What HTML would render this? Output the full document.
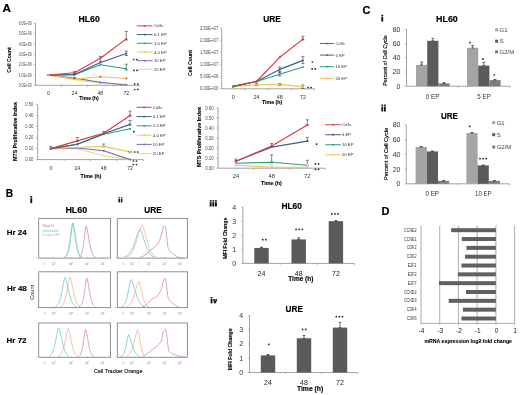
<!DOCTYPE html>
<html><head><meta charset="utf-8"><style>
html,body{margin:0;padding:0;background:#fff;width:520px;height:395px;overflow:hidden}
svg{display:block;font-family:"Liberation Sans",sans-serif;filter:blur(0.45px)}
</style></head><body>
<svg width="520" height="395" viewBox="0 0 520 395">
<rect width="520" height="395" fill="#fff"/>
<text x="2.50" y="12.00" font-size="11.7" text-anchor="start" fill="#000" font-weight="bold" stroke="#000" stroke-width="0.23" >A</text>
<text x="78.50" y="22.48" font-size="9.1" text-anchor="start" fill="#000" font-weight="bold" stroke="#000" stroke-width="0.18" textLength="21.30" lengthAdjust="spacingAndGlyphs" >HL60</text>
<line x1="35.50" y1="23.20" x2="35.50" y2="85.30" stroke="#8c8c8c" stroke-width="0.8" />
<line x1="35.50" y1="85.30" x2="139.30" y2="85.30" stroke="#8c8c8c" stroke-width="0.8" />
<line x1="33.90" y1="85.30" x2="35.50" y2="85.30" stroke="#8c8c8c" stroke-width="0.6" />
<text x="18.70" y="86.91" font-size="4.6" text-anchor="start" fill="#4a4a4a" textLength="12.90" lengthAdjust="spacingAndGlyphs" >0.0E+00</text>
<line x1="33.90" y1="74.95" x2="35.50" y2="74.95" stroke="#8c8c8c" stroke-width="0.6" />
<text x="18.70" y="76.56" font-size="4.6" text-anchor="start" fill="#4a4a4a" textLength="12.90" lengthAdjust="spacingAndGlyphs" >1.0E+06</text>
<line x1="33.90" y1="64.60" x2="35.50" y2="64.60" stroke="#8c8c8c" stroke-width="0.6" />
<text x="18.70" y="66.21" font-size="4.6" text-anchor="start" fill="#4a4a4a" textLength="12.90" lengthAdjust="spacingAndGlyphs" >2.0E+06</text>
<line x1="33.90" y1="54.25" x2="35.50" y2="54.25" stroke="#8c8c8c" stroke-width="0.6" />
<text x="18.70" y="55.86" font-size="4.6" text-anchor="start" fill="#4a4a4a" textLength="12.90" lengthAdjust="spacingAndGlyphs" >3.0E+06</text>
<line x1="33.90" y1="43.90" x2="35.50" y2="43.90" stroke="#8c8c8c" stroke-width="0.6" />
<text x="18.70" y="45.51" font-size="4.6" text-anchor="start" fill="#4a4a4a" textLength="12.90" lengthAdjust="spacingAndGlyphs" >4.0E+06</text>
<line x1="33.90" y1="33.55" x2="35.50" y2="33.55" stroke="#8c8c8c" stroke-width="0.6" />
<text x="18.70" y="35.16" font-size="4.6" text-anchor="start" fill="#4a4a4a" textLength="12.90" lengthAdjust="spacingAndGlyphs" >5.0E+06</text>
<line x1="33.90" y1="23.20" x2="35.50" y2="23.20" stroke="#8c8c8c" stroke-width="0.6" />
<text x="18.70" y="24.81" font-size="4.6" text-anchor="start" fill="#4a4a4a" textLength="12.90" lengthAdjust="spacingAndGlyphs" >6.0E+06</text>
<line x1="61.45" y1="85.30" x2="61.45" y2="86.90" stroke="#8c8c8c" stroke-width="0.6" />
<line x1="87.40" y1="85.30" x2="87.40" y2="86.90" stroke="#8c8c8c" stroke-width="0.6" />
<line x1="113.35" y1="85.30" x2="113.35" y2="86.90" stroke="#8c8c8c" stroke-width="0.6" />
<line x1="139.30" y1="85.30" x2="139.30" y2="86.90" stroke="#8c8c8c" stroke-width="0.6" />
<polyline points="48.5,75.0 74.4,79.6 100.4,83.2 126.3,84.4" fill="none" stroke="#dfe67a" stroke-width="1.15" stroke-linejoin="round" />
<polyline points="48.5,75.0 74.4,78.1 100.4,82.3 126.3,85.0" fill="none" stroke="#8064c4" stroke-width="1.15" stroke-linejoin="round" />
<polyline points="48.5,75.0 74.4,79.1 100.4,76.8 126.3,78.5" fill="none" stroke="#eec455" stroke-width="1.15" stroke-linejoin="round" />
<polyline points="48.5,75.0 74.4,74.6 100.4,64.8 126.3,68.7" fill="none" stroke="#26a27a" stroke-width="1.15" stroke-linejoin="round" />
<polyline points="48.5,75.0 74.4,74.6 100.4,62.5 126.3,53.5" fill="none" stroke="#3f5e88" stroke-width="1.15" stroke-linejoin="round" />
<polyline points="48.5,75.0 74.4,72.7 100.4,58.3 126.3,38.9" fill="none" stroke="#e2363f" stroke-width="1.15" stroke-linejoin="round" />
<line x1="126.32" y1="31.50" x2="126.32" y2="40.00" stroke="#555" stroke-width="0.7" />
<line x1="124.72" y1="31.50" x2="127.92" y2="31.50" stroke="#555" stroke-width="0.7" />
<line x1="124.72" y1="40.00" x2="127.92" y2="40.00" stroke="#555" stroke-width="0.7" />
<line x1="126.32" y1="51.20" x2="126.32" y2="55.50" stroke="#555" stroke-width="0.7" />
<line x1="124.72" y1="51.20" x2="127.92" y2="51.20" stroke="#555" stroke-width="0.7" />
<line x1="124.72" y1="55.50" x2="127.92" y2="55.50" stroke="#555" stroke-width="0.7" />
<line x1="126.32" y1="64.20" x2="126.32" y2="70.00" stroke="#555" stroke-width="0.7" />
<line x1="124.72" y1="64.20" x2="127.92" y2="64.20" stroke="#555" stroke-width="0.7" />
<line x1="124.72" y1="70.00" x2="127.92" y2="70.00" stroke="#555" stroke-width="0.7" />
<line x1="100.38" y1="56.40" x2="100.38" y2="61.80" stroke="#555" stroke-width="0.7" />
<line x1="98.78" y1="56.40" x2="101.97" y2="56.40" stroke="#555" stroke-width="0.7" />
<line x1="98.78" y1="61.80" x2="101.97" y2="61.80" stroke="#555" stroke-width="0.7" />
<line x1="74.42" y1="71.60" x2="74.42" y2="73.50" stroke="#555" stroke-width="0.7" />
<line x1="72.83" y1="71.60" x2="76.02" y2="71.60" stroke="#555" stroke-width="0.7" />
<line x1="72.83" y1="73.50" x2="76.02" y2="73.50" stroke="#555" stroke-width="0.7" />
<circle cx="48.48" cy="74.95" r="1.0" fill="#dfe67a"/>
<circle cx="74.42" cy="79.61" r="1.0" fill="#dfe67a"/>
<circle cx="100.38" cy="83.23" r="1.0" fill="#dfe67a"/>
<circle cx="126.32" cy="84.37" r="1.0" fill="#dfe67a"/>
<circle cx="48.48" cy="74.95" r="1.0" fill="#8064c4"/>
<circle cx="74.42" cy="78.05" r="1.0" fill="#8064c4"/>
<circle cx="100.38" cy="82.30" r="1.0" fill="#8064c4"/>
<circle cx="126.32" cy="84.99" r="1.0" fill="#8064c4"/>
<circle cx="48.48" cy="74.95" r="1.0" fill="#eec455"/>
<circle cx="74.42" cy="79.09" r="1.0" fill="#eec455"/>
<circle cx="100.38" cy="76.81" r="1.0" fill="#eec455"/>
<circle cx="126.32" cy="78.47" r="1.0" fill="#eec455"/>
<circle cx="48.48" cy="74.95" r="1.0" fill="#26a27a"/>
<circle cx="74.42" cy="74.64" r="1.0" fill="#26a27a"/>
<circle cx="100.38" cy="64.81" r="1.0" fill="#26a27a"/>
<circle cx="126.32" cy="68.74" r="1.0" fill="#26a27a"/>
<circle cx="48.48" cy="74.95" r="1.0" fill="#3f5e88"/>
<circle cx="74.42" cy="74.64" r="1.0" fill="#3f5e88"/>
<circle cx="100.38" cy="62.53" r="1.0" fill="#3f5e88"/>
<circle cx="126.32" cy="53.53" r="1.0" fill="#3f5e88"/>
<circle cx="48.48" cy="74.95" r="1.0" fill="#e2363f"/>
<circle cx="74.42" cy="72.67" r="1.0" fill="#e2363f"/>
<circle cx="100.38" cy="58.29" r="1.0" fill="#e2363f"/>
<circle cx="126.32" cy="38.93" r="1.0" fill="#e2363f"/>
<circle cx="74.42" cy="78.05" r="0.9" fill="#444"/>
<circle cx="126.32" cy="78.47" r="1.1" fill="#b08040"/>
<circle cx="100.38" cy="76.81" r="1.1" fill="#b08040"/>
<circle cx="48.48" cy="74.95" r="1.3" fill="#a8c070"/>
<text x="48.48" y="95.12" font-size="5.2" text-anchor="middle" fill="#333" >0</text>
<text x="74.42" y="95.12" font-size="5.2" text-anchor="middle" fill="#333" >24</text>
<text x="100.38" y="95.12" font-size="5.2" text-anchor="middle" fill="#333" >48</text>
<text x="126.32" y="95.12" font-size="5.2" text-anchor="middle" fill="#333" >72</text>
<text x="79.30" y="99.62" font-size="5.2" text-anchor="start" fill="#000" font-weight="bold" stroke="#000" stroke-width="0.10" textLength="19.50" lengthAdjust="spacingAndGlyphs" >Time (h)</text>
<text transform="translate(8.90,60.00) rotate(-90)" x="0" y="1.96" font-size="5.6" text-anchor="middle" fill="#000" font-weight="bold" stroke="#000" stroke-width="0.11" textLength="25.50" lengthAdjust="spacingAndGlyphs" >Cell Count</text>
<line x1="136.80" y1="25.90" x2="152.50" y2="25.90" stroke="#e2363f" stroke-width="1.0" />
<circle cx="144.60" cy="25.90" r="0.9" fill="#e2363f"/>
<text x="153.90" y="27.40" font-size="4.3" text-anchor="start" fill="#333" >Cells</text>
<line x1="136.80" y1="34.60" x2="152.50" y2="34.60" stroke="#3f5e88" stroke-width="1.0" />
<circle cx="144.60" cy="34.60" r="0.9" fill="#3f5e88"/>
<text x="153.90" y="36.10" font-size="4.3" text-anchor="start" fill="#333" >0.1 EP</text>
<line x1="136.80" y1="43.30" x2="152.50" y2="43.30" stroke="#26a27a" stroke-width="1.0" />
<circle cx="144.60" cy="43.30" r="0.9" fill="#26a27a"/>
<text x="153.90" y="44.80" font-size="4.3" text-anchor="start" fill="#333" >1.0 EP</text>
<line x1="136.80" y1="52.00" x2="152.50" y2="52.00" stroke="#eec455" stroke-width="1.0" />
<circle cx="144.60" cy="52.00" r="0.9" fill="#eec455"/>
<text x="153.90" y="53.51" font-size="4.3" text-anchor="start" fill="#333" >4.0 EP</text>
<line x1="136.80" y1="60.70" x2="152.50" y2="60.70" stroke="#8064c4" stroke-width="1.0" />
<circle cx="144.60" cy="60.70" r="0.9" fill="#8064c4"/>
<text x="153.90" y="62.20" font-size="4.3" text-anchor="start" fill="#333" >10 EP</text>
<line x1="136.80" y1="69.40" x2="152.50" y2="69.40" stroke="#dfe67a" stroke-width="1.0" />
<circle cx="144.60" cy="69.40" r="0.9" fill="#dfe67a"/>
<text x="153.90" y="70.91" font-size="4.3" text-anchor="start" fill="#333" >20 EP</text>
<rect x="132.80" y="58.65" width="1.7" height="1.7" rx="0.5" fill="#333"/>
<rect x="135.90" y="58.65" width="1.7" height="1.7" rx="0.5" fill="#333"/>
<rect x="133.10" y="69.45" width="1.7" height="1.7" rx="0.5" fill="#333"/>
<rect x="136.20" y="69.45" width="1.7" height="1.7" rx="0.5" fill="#333"/>
<rect x="133.80" y="83.15" width="1.7" height="1.7" rx="0.5" fill="#333"/>
<rect x="136.90" y="83.15" width="1.7" height="1.7" rx="0.5" fill="#333"/>
<rect x="133.80" y="88.65" width="1.7" height="1.7" rx="0.5" fill="#333"/>
<rect x="136.90" y="88.65" width="1.7" height="1.7" rx="0.5" fill="#333"/>
<text x="263.30" y="22.29" font-size="9.1" text-anchor="start" fill="#000" font-weight="bold" stroke="#000" stroke-width="0.18" textLength="17.60" lengthAdjust="spacingAndGlyphs" >URE</text>
<line x1="221.70" y1="28.20" x2="221.70" y2="88.80" stroke="#8c8c8c" stroke-width="0.8" />
<line x1="221.70" y1="88.80" x2="314.50" y2="88.80" stroke="#8c8c8c" stroke-width="0.8" />
<line x1="220.10" y1="88.80" x2="221.70" y2="88.80" stroke="#8c8c8c" stroke-width="0.6" />
<text x="200.00" y="90.41" font-size="4.6" text-anchor="start" fill="#4a4a4a" textLength="18.30" lengthAdjust="spacingAndGlyphs" >0.00E+00</text>
<line x1="220.10" y1="76.68" x2="221.70" y2="76.68" stroke="#8c8c8c" stroke-width="0.6" />
<text x="200.00" y="78.29" font-size="4.6" text-anchor="start" fill="#4a4a4a" textLength="18.30" lengthAdjust="spacingAndGlyphs" >5.00E+06</text>
<line x1="220.10" y1="64.56" x2="221.70" y2="64.56" stroke="#8c8c8c" stroke-width="0.6" />
<text x="200.00" y="66.17" font-size="4.6" text-anchor="start" fill="#4a4a4a" textLength="18.30" lengthAdjust="spacingAndGlyphs" >1.00E+07</text>
<line x1="220.10" y1="52.44" x2="221.70" y2="52.44" stroke="#8c8c8c" stroke-width="0.6" />
<text x="200.00" y="54.05" font-size="4.6" text-anchor="start" fill="#4a4a4a" textLength="18.30" lengthAdjust="spacingAndGlyphs" >1.50E+07</text>
<line x1="220.10" y1="40.32" x2="221.70" y2="40.32" stroke="#8c8c8c" stroke-width="0.6" />
<text x="200.00" y="41.93" font-size="4.6" text-anchor="start" fill="#4a4a4a" textLength="18.30" lengthAdjust="spacingAndGlyphs" >2.00E+07</text>
<line x1="220.10" y1="28.20" x2="221.70" y2="28.20" stroke="#8c8c8c" stroke-width="0.6" />
<text x="200.00" y="29.81" font-size="4.6" text-anchor="start" fill="#4a4a4a" textLength="18.30" lengthAdjust="spacingAndGlyphs" >2.50E+07</text>
<line x1="244.90" y1="88.80" x2="244.90" y2="90.40" stroke="#8c8c8c" stroke-width="0.6" />
<line x1="268.10" y1="88.80" x2="268.10" y2="90.40" stroke="#8c8c8c" stroke-width="0.6" />
<line x1="291.30" y1="88.80" x2="291.30" y2="90.40" stroke="#8c8c8c" stroke-width="0.6" />
<line x1="314.50" y1="88.80" x2="314.50" y2="90.40" stroke="#8c8c8c" stroke-width="0.6" />
<polyline points="233.3,86.4 256.5,84.7 279.7,84.4 302.9,86.9" fill="none" stroke="#eec455" stroke-width="1.15" stroke-linejoin="round" />
<polyline points="233.3,86.4 256.5,81.5 279.7,74.3 302.9,67.0" fill="none" stroke="#26a27a" stroke-width="1.15" stroke-linejoin="round" />
<polyline points="233.3,86.4 256.5,81.5 279.7,69.4 302.9,60.4" fill="none" stroke="#3f5e88" stroke-width="1.15" stroke-linejoin="round" />
<polyline points="233.3,86.4 256.5,81.5 279.7,57.3 302.9,39.1" fill="none" stroke="#e2363f" stroke-width="1.15" stroke-linejoin="round" />
<line x1="302.90" y1="36.20" x2="302.90" y2="40.00" stroke="#555" stroke-width="0.7" />
<line x1="301.30" y1="36.20" x2="304.50" y2="36.20" stroke="#555" stroke-width="0.7" />
<line x1="301.30" y1="40.00" x2="304.50" y2="40.00" stroke="#555" stroke-width="0.7" />
<line x1="302.90" y1="56.70" x2="302.90" y2="63.60" stroke="#555" stroke-width="0.7" />
<line x1="301.30" y1="56.70" x2="304.50" y2="56.70" stroke="#555" stroke-width="0.7" />
<line x1="301.30" y1="63.60" x2="304.50" y2="63.60" stroke="#555" stroke-width="0.7" />
<line x1="279.70" y1="67.00" x2="279.70" y2="71.50" stroke="#555" stroke-width="0.7" />
<line x1="278.10" y1="67.00" x2="281.30" y2="67.00" stroke="#555" stroke-width="0.7" />
<line x1="278.10" y1="71.50" x2="281.30" y2="71.50" stroke="#555" stroke-width="0.7" />
<line x1="279.70" y1="72.50" x2="279.70" y2="76.00" stroke="#555" stroke-width="0.7" />
<line x1="278.10" y1="72.50" x2="281.30" y2="72.50" stroke="#555" stroke-width="0.7" />
<line x1="278.10" y1="76.00" x2="281.30" y2="76.00" stroke="#555" stroke-width="0.7" />
<line x1="279.70" y1="83.50" x2="279.70" y2="85.50" stroke="#555" stroke-width="0.7" />
<line x1="278.10" y1="83.50" x2="281.30" y2="83.50" stroke="#555" stroke-width="0.7" />
<line x1="278.10" y1="85.50" x2="281.30" y2="85.50" stroke="#555" stroke-width="0.7" />
<line x1="302.90" y1="85.00" x2="302.90" y2="88.50" stroke="#555" stroke-width="0.7" />
<line x1="301.30" y1="85.00" x2="304.50" y2="85.00" stroke="#555" stroke-width="0.7" />
<line x1="301.30" y1="88.50" x2="304.50" y2="88.50" stroke="#555" stroke-width="0.7" />
<line x1="256.50" y1="83.70" x2="256.50" y2="85.50" stroke="#555" stroke-width="0.7" />
<line x1="254.90" y1="83.70" x2="258.10" y2="83.70" stroke="#555" stroke-width="0.7" />
<line x1="254.90" y1="85.50" x2="258.10" y2="85.50" stroke="#555" stroke-width="0.7" />
<circle cx="233.30" cy="86.38" r="1.0" fill="#eec455"/>
<circle cx="256.50" cy="84.68" r="1.0" fill="#eec455"/>
<circle cx="279.70" cy="84.44" r="1.0" fill="#eec455"/>
<circle cx="302.90" cy="86.86" r="1.0" fill="#eec455"/>
<circle cx="233.30" cy="86.38" r="1.0" fill="#26a27a"/>
<circle cx="256.50" cy="81.53" r="1.0" fill="#26a27a"/>
<circle cx="279.70" cy="74.26" r="1.0" fill="#26a27a"/>
<circle cx="302.90" cy="66.98" r="1.0" fill="#26a27a"/>
<circle cx="233.30" cy="86.38" r="1.0" fill="#3f5e88"/>
<circle cx="256.50" cy="81.53" r="1.0" fill="#3f5e88"/>
<circle cx="279.70" cy="69.41" r="1.0" fill="#3f5e88"/>
<circle cx="302.90" cy="60.44" r="1.0" fill="#3f5e88"/>
<circle cx="233.30" cy="86.38" r="1.0" fill="#e2363f"/>
<circle cx="256.50" cy="81.53" r="1.0" fill="#e2363f"/>
<circle cx="279.70" cy="57.29" r="1.0" fill="#e2363f"/>
<circle cx="302.90" cy="39.11" r="1.0" fill="#e2363f"/>
<circle cx="233.30" cy="86.38" r="1.2" fill="#708040"/>
<text x="233.30" y="98.89" font-size="5.4" text-anchor="middle" fill="#333" >0</text>
<text x="256.50" y="98.89" font-size="5.4" text-anchor="middle" fill="#333" >24</text>
<text x="279.70" y="98.89" font-size="5.4" text-anchor="middle" fill="#333" >48</text>
<text x="302.90" y="98.89" font-size="5.4" text-anchor="middle" fill="#333" >72</text>
<text x="261.90" y="104.36" font-size="5.3" text-anchor="start" fill="#000" font-weight="bold" stroke="#000" stroke-width="0.11" textLength="20.40" lengthAdjust="spacingAndGlyphs" >Time (h)</text>
<text transform="translate(190.30,63.00) rotate(-90)" x="0" y="1.96" font-size="5.6" text-anchor="middle" fill="#000" font-weight="bold" stroke="#000" stroke-width="0.11" textLength="26.00" lengthAdjust="spacingAndGlyphs" >Cell Count</text>
<line x1="319.90" y1="43.50" x2="334.00" y2="43.50" stroke="#e2363f" stroke-width="1.0" />
<circle cx="327.00" cy="43.50" r="0.9" fill="#e2363f"/>
<text x="335.40" y="45.01" font-size="4.3" text-anchor="start" fill="#333" >Cells</text>
<line x1="319.90" y1="55.10" x2="334.00" y2="55.10" stroke="#3f5e88" stroke-width="1.0" />
<circle cx="327.00" cy="55.10" r="0.9" fill="#3f5e88"/>
<text x="335.40" y="56.61" font-size="4.3" text-anchor="start" fill="#333" >6 EP</text>
<line x1="319.90" y1="66.70" x2="334.00" y2="66.70" stroke="#26a27a" stroke-width="1.0" />
<circle cx="327.00" cy="66.70" r="0.9" fill="#26a27a"/>
<text x="335.40" y="68.20" font-size="4.3" text-anchor="start" fill="#333" >10 EP</text>
<line x1="319.90" y1="78.30" x2="334.00" y2="78.30" stroke="#eec455" stroke-width="1.0" />
<circle cx="327.00" cy="78.30" r="0.9" fill="#eec455"/>
<text x="335.40" y="79.80" font-size="4.3" text-anchor="start" fill="#333" >20 EP</text>
<rect x="311.55" y="61.15" width="1.7" height="1.7" rx="0.5" fill="#333"/>
<rect x="311.30" y="67.95" width="1.7" height="1.7" rx="0.5" fill="#333"/>
<rect x="314.40" y="67.95" width="1.7" height="1.7" rx="0.5" fill="#333"/>
<rect x="307.20" y="86.65" width="1.7" height="1.7" rx="0.5" fill="#333"/>
<rect x="310.30" y="86.65" width="1.7" height="1.7" rx="0.5" fill="#333"/>
<line x1="37.70" y1="104.70" x2="37.70" y2="159.60" stroke="#8c8c8c" stroke-width="0.8" />
<line x1="37.70" y1="159.60" x2="143.30" y2="159.60" stroke="#8c8c8c" stroke-width="0.8" />
<line x1="36.10" y1="159.60" x2="37.70" y2="159.60" stroke="#8c8c8c" stroke-width="0.6" />
<text x="25.20" y="161.21" font-size="4.6" text-anchor="start" fill="#4a4a4a" textLength="8.20" lengthAdjust="spacingAndGlyphs" >0.00</text>
<line x1="36.10" y1="148.60" x2="37.70" y2="148.60" stroke="#8c8c8c" stroke-width="0.6" />
<text x="25.20" y="150.21" font-size="4.6" text-anchor="start" fill="#4a4a4a" textLength="8.20" lengthAdjust="spacingAndGlyphs" >0.10</text>
<line x1="36.10" y1="137.60" x2="37.70" y2="137.60" stroke="#8c8c8c" stroke-width="0.6" />
<text x="25.20" y="139.21" font-size="4.6" text-anchor="start" fill="#4a4a4a" textLength="8.20" lengthAdjust="spacingAndGlyphs" >0.20</text>
<line x1="36.10" y1="126.60" x2="37.70" y2="126.60" stroke="#8c8c8c" stroke-width="0.6" />
<text x="25.20" y="128.21" font-size="4.6" text-anchor="start" fill="#4a4a4a" textLength="8.20" lengthAdjust="spacingAndGlyphs" >0.30</text>
<line x1="36.10" y1="115.60" x2="37.70" y2="115.60" stroke="#8c8c8c" stroke-width="0.6" />
<text x="25.20" y="117.21" font-size="4.6" text-anchor="start" fill="#4a4a4a" textLength="8.20" lengthAdjust="spacingAndGlyphs" >0.40</text>
<line x1="36.10" y1="104.60" x2="37.70" y2="104.60" stroke="#8c8c8c" stroke-width="0.6" />
<text x="25.20" y="106.21" font-size="4.6" text-anchor="start" fill="#4a4a4a" textLength="8.20" lengthAdjust="spacingAndGlyphs" >0.50</text>
<line x1="64.10" y1="159.60" x2="64.10" y2="161.20" stroke="#8c8c8c" stroke-width="0.6" />
<line x1="90.50" y1="159.60" x2="90.50" y2="161.20" stroke="#8c8c8c" stroke-width="0.6" />
<line x1="116.90" y1="159.60" x2="116.90" y2="161.20" stroke="#8c8c8c" stroke-width="0.6" />
<line x1="143.30" y1="159.60" x2="143.30" y2="161.20" stroke="#8c8c8c" stroke-width="0.6" />
<polyline points="50.9,148.6 77.3,148.6 103.7,155.8 130.1,159.6" fill="none" stroke="#dfe67a" stroke-width="1.15" stroke-linejoin="round" />
<polyline points="50.9,148.6 77.3,148.0 103.7,150.8 130.1,159.6" fill="none" stroke="#8064c4" stroke-width="1.15" stroke-linejoin="round" />
<polyline points="50.9,148.6 77.3,147.5 103.7,146.4 130.1,151.9" fill="none" stroke="#eec455" stroke-width="1.15" stroke-linejoin="round" />
<polyline points="50.9,148.6 77.3,144.2 103.7,134.3 130.1,128.8" fill="none" stroke="#26a27a" stroke-width="1.15" stroke-linejoin="round" />
<polyline points="50.9,148.6 77.3,144.2 103.7,133.8 130.1,124.4" fill="none" stroke="#3f5e88" stroke-width="1.15" stroke-linejoin="round" />
<polyline points="50.9,148.6 77.3,140.9 103.7,133.2 130.1,115.6" fill="none" stroke="#e2363f" stroke-width="1.15" stroke-linejoin="round" />
<line x1="130.10" y1="111.20" x2="130.10" y2="116.00" stroke="#555" stroke-width="0.7" />
<line x1="128.50" y1="111.20" x2="131.70" y2="111.20" stroke="#555" stroke-width="0.7" />
<line x1="128.50" y1="116.00" x2="131.70" y2="116.00" stroke="#555" stroke-width="0.7" />
<line x1="130.10" y1="120.40" x2="130.10" y2="125.00" stroke="#555" stroke-width="0.7" />
<line x1="128.50" y1="120.40" x2="131.70" y2="120.40" stroke="#555" stroke-width="0.7" />
<line x1="128.50" y1="125.00" x2="131.70" y2="125.00" stroke="#555" stroke-width="0.7" />
<line x1="77.30" y1="137.50" x2="77.30" y2="141.50" stroke="#555" stroke-width="0.7" />
<line x1="75.70" y1="137.50" x2="78.90" y2="137.50" stroke="#555" stroke-width="0.7" />
<line x1="75.70" y1="141.50" x2="78.90" y2="141.50" stroke="#555" stroke-width="0.7" />
<line x1="103.70" y1="131.50" x2="103.70" y2="133.50" stroke="#555" stroke-width="0.7" />
<line x1="102.10" y1="131.50" x2="105.30" y2="131.50" stroke="#555" stroke-width="0.7" />
<line x1="102.10" y1="133.50" x2="105.30" y2="133.50" stroke="#555" stroke-width="0.7" />
<line x1="103.70" y1="144.00" x2="103.70" y2="146.50" stroke="#555" stroke-width="0.7" />
<line x1="102.10" y1="144.00" x2="105.30" y2="144.00" stroke="#555" stroke-width="0.7" />
<line x1="102.10" y1="146.50" x2="105.30" y2="146.50" stroke="#555" stroke-width="0.7" />
<line x1="50.90" y1="146.30" x2="50.90" y2="148.50" stroke="#555" stroke-width="0.7" />
<line x1="49.30" y1="146.30" x2="52.50" y2="146.30" stroke="#555" stroke-width="0.7" />
<line x1="49.30" y1="148.50" x2="52.50" y2="148.50" stroke="#555" stroke-width="0.7" />
<line x1="130.10" y1="151.50" x2="130.10" y2="152.80" stroke="#555" stroke-width="0.7" />
<line x1="128.50" y1="151.50" x2="131.70" y2="151.50" stroke="#555" stroke-width="0.7" />
<line x1="128.50" y1="152.80" x2="131.70" y2="152.80" stroke="#555" stroke-width="0.7" />
<circle cx="50.90" cy="148.60" r="1.0" fill="#dfe67a"/>
<circle cx="77.30" cy="148.60" r="1.0" fill="#dfe67a"/>
<circle cx="103.70" cy="155.75" r="1.0" fill="#dfe67a"/>
<circle cx="130.10" cy="159.60" r="1.0" fill="#dfe67a"/>
<circle cx="50.90" cy="148.60" r="1.0" fill="#8064c4"/>
<circle cx="77.30" cy="148.05" r="1.0" fill="#8064c4"/>
<circle cx="103.70" cy="150.80" r="1.0" fill="#8064c4"/>
<circle cx="130.10" cy="159.60" r="1.0" fill="#8064c4"/>
<circle cx="50.90" cy="148.60" r="1.0" fill="#eec455"/>
<circle cx="77.30" cy="147.50" r="1.0" fill="#eec455"/>
<circle cx="103.70" cy="146.40" r="1.0" fill="#eec455"/>
<circle cx="130.10" cy="151.90" r="1.0" fill="#eec455"/>
<circle cx="50.90" cy="148.60" r="1.0" fill="#26a27a"/>
<circle cx="77.30" cy="144.20" r="1.0" fill="#26a27a"/>
<circle cx="103.70" cy="134.30" r="1.0" fill="#26a27a"/>
<circle cx="130.10" cy="128.80" r="1.0" fill="#26a27a"/>
<circle cx="50.90" cy="148.60" r="1.0" fill="#3f5e88"/>
<circle cx="77.30" cy="144.20" r="1.0" fill="#3f5e88"/>
<circle cx="103.70" cy="133.75" r="1.0" fill="#3f5e88"/>
<circle cx="130.10" cy="124.40" r="1.0" fill="#3f5e88"/>
<circle cx="50.90" cy="148.60" r="1.0" fill="#e2363f"/>
<circle cx="77.30" cy="140.90" r="1.0" fill="#e2363f"/>
<circle cx="103.70" cy="133.20" r="1.0" fill="#e2363f"/>
<circle cx="130.10" cy="115.60" r="1.0" fill="#e2363f"/>
<circle cx="50.90" cy="148.60" r="1.3" fill="#777"/>
<text x="50.90" y="169.82" font-size="5.2" text-anchor="middle" fill="#333" >0</text>
<text x="77.30" y="169.82" font-size="5.2" text-anchor="middle" fill="#333" >24</text>
<text x="103.70" y="169.82" font-size="5.2" text-anchor="middle" fill="#333" >48</text>
<text x="130.10" y="169.82" font-size="5.2" text-anchor="middle" fill="#333" >72</text>
<text x="80.50" y="178.29" font-size="5.4" text-anchor="start" fill="#000" font-weight="bold" stroke="#000" stroke-width="0.11" textLength="20.90" lengthAdjust="spacingAndGlyphs" >Time (h)</text>
<text transform="translate(15.10,131.50) rotate(-90)" x="0" y="1.85" font-size="5.3" text-anchor="middle" fill="#000" font-weight="bold" stroke="#000" stroke-width="0.11" textLength="59.00" lengthAdjust="spacingAndGlyphs" >MTS Proliferative Index</text>
<line x1="136.60" y1="107.30" x2="151.70" y2="107.30" stroke="#e2363f" stroke-width="1.0" />
<circle cx="144.20" cy="107.30" r="0.9" fill="#e2363f"/>
<text x="152.80" y="108.80" font-size="4.3" text-anchor="start" fill="#333" >Cells</text>
<line x1="136.60" y1="116.57" x2="151.70" y2="116.57" stroke="#3f5e88" stroke-width="1.0" />
<circle cx="144.20" cy="116.57" r="0.9" fill="#3f5e88"/>
<text x="152.80" y="118.07" font-size="4.3" text-anchor="start" fill="#333" >0.1 EP</text>
<line x1="136.60" y1="125.84" x2="151.70" y2="125.84" stroke="#26a27a" stroke-width="1.0" />
<circle cx="144.20" cy="125.84" r="0.9" fill="#26a27a"/>
<text x="152.80" y="127.34" font-size="4.3" text-anchor="start" fill="#333" >1.0 EP</text>
<line x1="136.60" y1="135.11" x2="151.70" y2="135.11" stroke="#eec455" stroke-width="1.0" />
<circle cx="144.20" cy="135.11" r="0.9" fill="#eec455"/>
<text x="152.80" y="136.61" font-size="4.3" text-anchor="start" fill="#333" >4.0 EP</text>
<line x1="136.60" y1="144.38" x2="151.70" y2="144.38" stroke="#8064c4" stroke-width="1.0" />
<circle cx="144.20" cy="144.38" r="0.9" fill="#8064c4"/>
<text x="152.80" y="145.88" font-size="4.3" text-anchor="start" fill="#333" >10 EP</text>
<line x1="136.60" y1="153.65" x2="151.70" y2="153.65" stroke="#dfe67a" stroke-width="1.0" />
<circle cx="144.20" cy="153.65" r="0.9" fill="#dfe67a"/>
<text x="152.80" y="155.15" font-size="4.3" text-anchor="start" fill="#333" >20 EP</text>
<rect x="132.95" y="130.75" width="1.7" height="1.7" rx="0.5" fill="#333"/>
<rect x="133.80" y="151.15" width="1.7" height="1.7" rx="0.5" fill="#333"/>
<rect x="136.90" y="151.15" width="1.7" height="1.7" rx="0.5" fill="#333"/>
<rect x="132.50" y="160.15" width="1.7" height="1.7" rx="0.5" fill="#333"/>
<rect x="135.60" y="160.15" width="1.7" height="1.7" rx="0.5" fill="#333"/>
<rect x="132.50" y="163.65" width="1.7" height="1.7" rx="0.5" fill="#333"/>
<rect x="135.60" y="163.65" width="1.7" height="1.7" rx="0.5" fill="#333"/>
<line x1="218.10" y1="107.90" x2="218.10" y2="168.20" stroke="#8c8c8c" stroke-width="0.8" />
<line x1="218.10" y1="168.20" x2="325.20" y2="168.20" stroke="#8c8c8c" stroke-width="0.8" />
<line x1="216.50" y1="168.20" x2="218.10" y2="168.20" stroke="#8c8c8c" stroke-width="0.6" />
<text x="205.20" y="169.81" font-size="4.6" text-anchor="start" fill="#4a4a4a" textLength="8.60" lengthAdjust="spacingAndGlyphs" >0.00</text>
<line x1="216.50" y1="158.15" x2="218.10" y2="158.15" stroke="#8c8c8c" stroke-width="0.6" />
<text x="205.20" y="159.76" font-size="4.6" text-anchor="start" fill="#4a4a4a" textLength="8.60" lengthAdjust="spacingAndGlyphs" >0.10</text>
<line x1="216.50" y1="148.10" x2="218.10" y2="148.10" stroke="#8c8c8c" stroke-width="0.6" />
<text x="205.20" y="149.71" font-size="4.6" text-anchor="start" fill="#4a4a4a" textLength="8.60" lengthAdjust="spacingAndGlyphs" >0.20</text>
<line x1="216.50" y1="138.05" x2="218.10" y2="138.05" stroke="#8c8c8c" stroke-width="0.6" />
<text x="205.20" y="139.66" font-size="4.6" text-anchor="start" fill="#4a4a4a" textLength="8.60" lengthAdjust="spacingAndGlyphs" >0.30</text>
<line x1="216.50" y1="128.00" x2="218.10" y2="128.00" stroke="#8c8c8c" stroke-width="0.6" />
<text x="205.20" y="129.61" font-size="4.6" text-anchor="start" fill="#4a4a4a" textLength="8.60" lengthAdjust="spacingAndGlyphs" >0.40</text>
<line x1="216.50" y1="117.95" x2="218.10" y2="117.95" stroke="#8c8c8c" stroke-width="0.6" />
<text x="205.20" y="119.56" font-size="4.6" text-anchor="start" fill="#4a4a4a" textLength="8.60" lengthAdjust="spacingAndGlyphs" >0.50</text>
<line x1="216.50" y1="107.90" x2="218.10" y2="107.90" stroke="#8c8c8c" stroke-width="0.6" />
<text x="205.20" y="109.51" font-size="4.6" text-anchor="start" fill="#4a4a4a" textLength="8.60" lengthAdjust="spacingAndGlyphs" >0.60</text>
<line x1="253.80" y1="168.20" x2="253.80" y2="169.80" stroke="#8c8c8c" stroke-width="0.6" />
<line x1="289.50" y1="168.20" x2="289.50" y2="169.80" stroke="#8c8c8c" stroke-width="0.6" />
<line x1="325.20" y1="168.20" x2="325.20" y2="169.80" stroke="#8c8c8c" stroke-width="0.6" />
<polyline points="235.9,165.2 271.6,167.2 307.4,167.2" fill="none" stroke="#eec455" stroke-width="1.15" stroke-linejoin="round" />
<polyline points="235.9,163.2 271.6,162.2 307.4,165.2" fill="none" stroke="#26a27a" stroke-width="1.15" stroke-linejoin="round" />
<polyline points="235.9,161.2 271.6,147.1 307.4,141.1" fill="none" stroke="#3f5e88" stroke-width="1.15" stroke-linejoin="round" />
<polyline points="235.9,161.2 271.6,146.1 307.4,125.0" fill="none" stroke="#e2363f" stroke-width="1.15" stroke-linejoin="round" />
<line x1="307.35" y1="119.80" x2="307.35" y2="125.00" stroke="#555" stroke-width="0.7" />
<line x1="305.75" y1="119.80" x2="308.95" y2="119.80" stroke="#555" stroke-width="0.7" />
<line x1="305.75" y1="125.00" x2="308.95" y2="125.00" stroke="#555" stroke-width="0.7" />
<line x1="307.35" y1="137.40" x2="307.35" y2="141.00" stroke="#555" stroke-width="0.7" />
<line x1="305.75" y1="137.40" x2="308.95" y2="137.40" stroke="#555" stroke-width="0.7" />
<line x1="305.75" y1="141.00" x2="308.95" y2="141.00" stroke="#555" stroke-width="0.7" />
<line x1="271.65" y1="154.90" x2="271.65" y2="162.20" stroke="#555" stroke-width="0.7" />
<line x1="270.05" y1="154.90" x2="273.25" y2="154.90" stroke="#555" stroke-width="0.7" />
<line x1="270.05" y1="162.20" x2="273.25" y2="162.20" stroke="#555" stroke-width="0.7" />
<line x1="307.35" y1="160.30" x2="307.35" y2="165.00" stroke="#555" stroke-width="0.7" />
<line x1="305.75" y1="160.30" x2="308.95" y2="160.30" stroke="#555" stroke-width="0.7" />
<line x1="305.75" y1="165.00" x2="308.95" y2="165.00" stroke="#555" stroke-width="0.7" />
<line x1="271.65" y1="143.50" x2="271.65" y2="146.50" stroke="#555" stroke-width="0.7" />
<line x1="270.05" y1="143.50" x2="273.25" y2="143.50" stroke="#555" stroke-width="0.7" />
<line x1="270.05" y1="146.50" x2="273.25" y2="146.50" stroke="#555" stroke-width="0.7" />
<line x1="235.95" y1="159.00" x2="235.95" y2="161.00" stroke="#555" stroke-width="0.7" />
<line x1="234.35" y1="159.00" x2="237.55" y2="159.00" stroke="#555" stroke-width="0.7" />
<line x1="234.35" y1="161.00" x2="237.55" y2="161.00" stroke="#555" stroke-width="0.7" />
<circle cx="235.95" cy="165.19" r="1.0" fill="#eec455"/>
<circle cx="271.65" cy="167.19" r="1.0" fill="#eec455"/>
<circle cx="307.35" cy="167.19" r="1.0" fill="#eec455"/>
<circle cx="235.95" cy="163.17" r="1.0" fill="#26a27a"/>
<circle cx="271.65" cy="162.17" r="1.0" fill="#26a27a"/>
<circle cx="307.35" cy="165.19" r="1.0" fill="#26a27a"/>
<circle cx="235.95" cy="161.16" r="1.0" fill="#3f5e88"/>
<circle cx="271.65" cy="147.09" r="1.0" fill="#3f5e88"/>
<circle cx="307.35" cy="141.06" r="1.0" fill="#3f5e88"/>
<circle cx="235.95" cy="161.16" r="1.0" fill="#e2363f"/>
<circle cx="271.65" cy="146.09" r="1.0" fill="#e2363f"/>
<circle cx="307.35" cy="124.98" r="1.0" fill="#e2363f"/>
<circle cx="235.95" cy="164.68" r="1.2" fill="#fff" stroke="#888" stroke-width="0.4"/>
<circle cx="271.65" cy="164.68" r="1.2" fill="#fff" stroke="#888" stroke-width="0.4"/>
<circle cx="307.35" cy="164.68" r="1.2" fill="#fff" stroke="#888" stroke-width="0.4"/>
<text x="235.95" y="178.43" font-size="5.8" text-anchor="middle" fill="#333" >24</text>
<text x="271.65" y="178.43" font-size="5.8" text-anchor="middle" fill="#333" >48</text>
<text x="307.35" y="178.43" font-size="5.8" text-anchor="middle" fill="#333" >72</text>
<text x="261.10" y="185.09" font-size="5.4" text-anchor="start" fill="#000" font-weight="bold" stroke="#000" stroke-width="0.11" textLength="20.80" lengthAdjust="spacingAndGlyphs" >Time (h)</text>
<text transform="translate(199.10,137.00) rotate(-90)" x="0" y="1.75" font-size="5.0" text-anchor="middle" fill="#000" font-weight="bold" stroke="#000" stroke-width="0.10" textLength="60.00" lengthAdjust="spacingAndGlyphs" >MTS Proliferative Index</text>
<line x1="325.20" y1="124.70" x2="341.20" y2="124.70" stroke="#e2363f" stroke-width="1.0" />
<circle cx="333.20" cy="124.70" r="0.9" fill="#e2363f"/>
<text x="341.90" y="126.20" font-size="4.3" text-anchor="start" fill="#333" >Cells</text>
<line x1="325.20" y1="134.73" x2="341.20" y2="134.73" stroke="#3f5e88" stroke-width="1.0" />
<circle cx="333.20" cy="134.73" r="0.9" fill="#3f5e88"/>
<text x="341.90" y="136.23" font-size="4.3" text-anchor="start" fill="#333" >6 EP</text>
<line x1="325.20" y1="144.76" x2="341.20" y2="144.76" stroke="#26a27a" stroke-width="1.0" />
<circle cx="333.20" cy="144.76" r="0.9" fill="#26a27a"/>
<text x="341.90" y="146.26" font-size="4.3" text-anchor="start" fill="#333" >10 EP</text>
<line x1="325.20" y1="154.79" x2="341.20" y2="154.79" stroke="#eec455" stroke-width="1.0" />
<circle cx="333.20" cy="154.79" r="0.9" fill="#eec455"/>
<text x="341.90" y="156.29" font-size="4.3" text-anchor="start" fill="#333" >20 EP</text>
<rect x="315.75" y="143.25" width="1.7" height="1.7" rx="0.5" fill="#333"/>
<rect x="314.60" y="163.05" width="1.7" height="1.7" rx="0.5" fill="#333"/>
<rect x="317.70" y="163.05" width="1.7" height="1.7" rx="0.5" fill="#333"/>
<rect x="314.60" y="168.45" width="1.7" height="1.7" rx="0.5" fill="#333"/>
<rect x="317.70" y="168.45" width="1.7" height="1.7" rx="0.5" fill="#333"/>
<text x="362.40" y="13.65" font-size="11" text-anchor="start" fill="#000" font-weight="bold" stroke="#000" stroke-width="0.22" >C</text>
<rect x="381.30" y="14.80" width="1.90" height="1.47" fill="#111" />
<rect x="381.30" y="16.87" width="1.90" height="4.63" fill="#111" />
<text x="436.10" y="22.04" font-size="9.1" text-anchor="start" fill="#000" font-weight="bold" stroke="#000" stroke-width="0.18" textLength="21.70" lengthAdjust="spacingAndGlyphs" >HL60</text>
<line x1="406.50" y1="29.40" x2="406.50" y2="86.20" stroke="#8c8c8c" stroke-width="0.8" />
<line x1="406.50" y1="86.20" x2="510.10" y2="86.20" stroke="#8c8c8c" stroke-width="0.8" />
<line x1="404.90" y1="86.20" x2="406.50" y2="86.20" stroke="#8c8c8c" stroke-width="0.6" />
<text x="400.30" y="88.62" font-size="6.9" text-anchor="end" fill="#333" >0</text>
<line x1="404.90" y1="72.02" x2="406.50" y2="72.02" stroke="#8c8c8c" stroke-width="0.6" />
<text x="400.30" y="74.44" font-size="6.9" text-anchor="end" fill="#333" >20</text>
<line x1="404.90" y1="57.84" x2="406.50" y2="57.84" stroke="#8c8c8c" stroke-width="0.6" />
<text x="400.30" y="60.26" font-size="6.9" text-anchor="end" fill="#333" >40</text>
<line x1="404.90" y1="43.66" x2="406.50" y2="43.66" stroke="#8c8c8c" stroke-width="0.6" />
<text x="400.30" y="46.08" font-size="6.9" text-anchor="end" fill="#333" >60</text>
<line x1="404.90" y1="29.48" x2="406.50" y2="29.48" stroke="#8c8c8c" stroke-width="0.6" />
<text x="400.30" y="31.90" font-size="6.9" text-anchor="end" fill="#333" >80</text>
<line x1="458.30" y1="86.20" x2="458.30" y2="87.80" stroke="#8c8c8c" stroke-width="0.6" />
<line x1="510.10" y1="86.20" x2="510.10" y2="87.80" stroke="#8c8c8c" stroke-width="0.6" />
<rect x="416.00" y="64.93" width="11.20" height="21.27" fill="#a4a4a4" />
<line x1="421.60" y1="62.09" x2="421.60" y2="64.93" stroke="#333" stroke-width="0.7" />
<line x1="420.20" y1="62.09" x2="423.00" y2="62.09" stroke="#333" stroke-width="0.7" />
<line x1="420.20" y1="64.93" x2="423.00" y2="64.93" stroke="#333" stroke-width="0.7" />
<rect x="427.20" y="40.82" width="11.20" height="45.38" fill="#5b5b5b" />
<line x1="432.80" y1="38.34" x2="432.80" y2="40.82" stroke="#333" stroke-width="0.7" />
<line x1="431.40" y1="38.34" x2="434.20" y2="38.34" stroke="#333" stroke-width="0.7" />
<line x1="431.40" y1="40.82" x2="434.20" y2="40.82" stroke="#333" stroke-width="0.7" />
<rect x="438.40" y="83.36" width="11.20" height="2.84" fill="#7e7e7e" />
<line x1="444.00" y1="82.66" x2="444.00" y2="83.36" stroke="#333" stroke-width="0.7" />
<line x1="442.60" y1="82.66" x2="445.40" y2="82.66" stroke="#333" stroke-width="0.7" />
<line x1="442.60" y1="83.36" x2="445.40" y2="83.36" stroke="#333" stroke-width="0.7" />
<rect x="467.00" y="47.91" width="11.20" height="38.29" fill="#a4a4a4" />
<line x1="472.60" y1="45.43" x2="472.60" y2="47.91" stroke="#333" stroke-width="0.7" />
<line x1="471.20" y1="45.43" x2="474.00" y2="45.43" stroke="#333" stroke-width="0.7" />
<line x1="471.20" y1="47.91" x2="474.00" y2="47.91" stroke="#333" stroke-width="0.7" />
<rect x="478.20" y="65.64" width="11.20" height="20.56" fill="#5b5b5b" />
<line x1="483.80" y1="62.45" x2="483.80" y2="65.64" stroke="#333" stroke-width="0.7" />
<line x1="482.40" y1="62.45" x2="485.20" y2="62.45" stroke="#333" stroke-width="0.7" />
<line x1="482.40" y1="65.64" x2="485.20" y2="65.64" stroke="#333" stroke-width="0.7" />
<rect x="489.40" y="80.10" width="11.20" height="6.10" fill="#7e7e7e" />
<line x1="495.00" y1="79.39" x2="495.00" y2="80.10" stroke="#333" stroke-width="0.7" />
<line x1="493.60" y1="79.39" x2="496.40" y2="79.39" stroke="#333" stroke-width="0.7" />
<line x1="493.60" y1="80.10" x2="496.40" y2="80.10" stroke="#333" stroke-width="0.7" />
<text x="425.70" y="98.88" font-size="6.5" text-anchor="start" fill="#333" textLength="13.90" lengthAdjust="spacingAndGlyphs" >0 EP</text>
<text x="477.30" y="98.88" font-size="6.5" text-anchor="start" fill="#333" textLength="13.50" lengthAdjust="spacingAndGlyphs" >5 EP</text>
<text transform="translate(385.20,60.50) rotate(-90)" x="0" y="1.92" font-size="5.5" text-anchor="middle" fill="#000" textLength="50.50" lengthAdjust="spacingAndGlyphs" stroke="#000" stroke-width="0.15">Percent of Cell Cycle</text>
<rect x="495.10" y="28.30" width="3.00" height="3.00" fill="#a4a4a4" />
<text x="499.60" y="31.90" font-size="6.0" text-anchor="start" fill="#444" >G1</text>
<rect x="495.10" y="39.70" width="3.00" height="3.00" fill="#5b5b5b" />
<text x="499.60" y="43.30" font-size="6.0" text-anchor="start" fill="#444" >S</text>
<rect x="495.10" y="50.30" width="3.00" height="3.00" fill="#7e7e7e" />
<text x="499.60" y="53.90" font-size="6.0" text-anchor="start" fill="#444" >G2/M</text>
<rect x="469.05" y="41.85" width="1.7" height="1.7" rx="0.5" fill="#333"/>
<rect x="482.15" y="57.95" width="1.7" height="1.7" rx="0.5" fill="#333"/>
<rect x="493.45" y="74.15" width="1.7" height="1.7" rx="0.5" fill="#333"/>
<rect x="381.40" y="104.60" width="1.80" height="1.52" fill="#111" />
<rect x="381.40" y="106.72" width="1.80" height="4.78" fill="#111" />
<rect x="384.00" y="104.60" width="1.80" height="1.52" fill="#111" />
<rect x="384.00" y="106.72" width="1.80" height="4.78" fill="#111" />
<text x="441.10" y="119.03" font-size="9.1" text-anchor="start" fill="#000" font-weight="bold" stroke="#000" stroke-width="0.18" textLength="16.80" lengthAdjust="spacingAndGlyphs" >URE</text>
<line x1="406.30" y1="124.90" x2="406.30" y2="183.80" stroke="#8c8c8c" stroke-width="0.8" />
<line x1="406.30" y1="183.80" x2="509.10" y2="183.80" stroke="#8c8c8c" stroke-width="0.8" />
<line x1="404.70" y1="183.80" x2="406.30" y2="183.80" stroke="#8c8c8c" stroke-width="0.6" />
<text x="400.30" y="186.22" font-size="6.9" text-anchor="end" fill="#333" >0</text>
<line x1="404.70" y1="169.08" x2="406.30" y2="169.08" stroke="#8c8c8c" stroke-width="0.6" />
<text x="400.30" y="171.50" font-size="6.9" text-anchor="end" fill="#333" >20</text>
<line x1="404.70" y1="154.36" x2="406.30" y2="154.36" stroke="#8c8c8c" stroke-width="0.6" />
<text x="400.30" y="156.78" font-size="6.9" text-anchor="end" fill="#333" >40</text>
<line x1="404.70" y1="139.64" x2="406.30" y2="139.64" stroke="#8c8c8c" stroke-width="0.6" />
<text x="400.30" y="142.06" font-size="6.9" text-anchor="end" fill="#333" >60</text>
<line x1="404.70" y1="124.92" x2="406.30" y2="124.92" stroke="#8c8c8c" stroke-width="0.6" />
<text x="400.30" y="127.34" font-size="6.9" text-anchor="end" fill="#333" >80</text>
<line x1="457.70" y1="183.80" x2="457.70" y2="185.40" stroke="#8c8c8c" stroke-width="0.6" />
<line x1="509.10" y1="183.80" x2="509.10" y2="185.40" stroke="#8c8c8c" stroke-width="0.6" />
<rect x="415.60" y="147.00" width="11.20" height="36.80" fill="#a4a4a4" />
<line x1="421.20" y1="146.56" x2="421.20" y2="147.00" stroke="#333" stroke-width="0.7" />
<line x1="419.80" y1="146.56" x2="422.60" y2="146.56" stroke="#333" stroke-width="0.7" />
<line x1="419.80" y1="147.00" x2="422.60" y2="147.00" stroke="#333" stroke-width="0.7" />
<rect x="426.80" y="151.42" width="11.20" height="32.38" fill="#5b5b5b" />
<line x1="432.40" y1="150.97" x2="432.40" y2="151.42" stroke="#333" stroke-width="0.7" />
<line x1="431.00" y1="150.97" x2="433.80" y2="150.97" stroke="#333" stroke-width="0.7" />
<line x1="431.00" y1="151.42" x2="433.80" y2="151.42" stroke="#333" stroke-width="0.7" />
<rect x="438.00" y="180.86" width="11.20" height="2.94" fill="#7e7e7e" />
<line x1="443.60" y1="180.49" x2="443.60" y2="180.86" stroke="#333" stroke-width="0.7" />
<line x1="442.20" y1="180.49" x2="445.00" y2="180.49" stroke="#333" stroke-width="0.7" />
<line x1="442.20" y1="180.86" x2="445.00" y2="180.86" stroke="#333" stroke-width="0.7" />
<rect x="466.40" y="133.02" width="11.20" height="50.78" fill="#a4a4a4" />
<line x1="472.00" y1="132.50" x2="472.00" y2="133.02" stroke="#333" stroke-width="0.7" />
<line x1="470.60" y1="132.50" x2="473.40" y2="132.50" stroke="#333" stroke-width="0.7" />
<line x1="470.60" y1="133.02" x2="473.40" y2="133.02" stroke="#333" stroke-width="0.7" />
<rect x="477.60" y="165.40" width="11.20" height="18.40" fill="#5b5b5b" />
<line x1="483.20" y1="165.03" x2="483.20" y2="165.40" stroke="#333" stroke-width="0.7" />
<line x1="481.80" y1="165.03" x2="484.60" y2="165.03" stroke="#333" stroke-width="0.7" />
<line x1="481.80" y1="165.40" x2="484.60" y2="165.40" stroke="#333" stroke-width="0.7" />
<rect x="488.80" y="180.86" width="11.20" height="2.94" fill="#7e7e7e" />
<line x1="494.40" y1="180.49" x2="494.40" y2="180.86" stroke="#333" stroke-width="0.7" />
<line x1="493.00" y1="180.49" x2="495.80" y2="180.49" stroke="#333" stroke-width="0.7" />
<line x1="493.00" y1="180.86" x2="495.80" y2="180.86" stroke="#333" stroke-width="0.7" />
<text x="425.50" y="195.58" font-size="6.5" text-anchor="start" fill="#333" textLength="13.50" lengthAdjust="spacingAndGlyphs" >0 EP</text>
<text x="475.10" y="195.58" font-size="6.5" text-anchor="start" fill="#333" textLength="16.50" lengthAdjust="spacingAndGlyphs" >10 EP</text>
<text transform="translate(385.70,154.00) rotate(-90)" x="0" y="1.92" font-size="5.5" text-anchor="middle" fill="#000" textLength="52.00" lengthAdjust="spacingAndGlyphs" stroke="#000" stroke-width="0.15">Percent of Cell Cycle</text>
<rect x="492.20" y="121.20" width="3.00" height="3.00" fill="#a4a4a4" />
<text x="496.70" y="124.80" font-size="6.0" text-anchor="start" fill="#444" >G1</text>
<rect x="492.20" y="133.20" width="3.00" height="3.00" fill="#5b5b5b" />
<text x="496.70" y="136.80" font-size="6.0" text-anchor="start" fill="#444" >S</text>
<rect x="492.20" y="145.50" width="3.00" height="3.00" fill="#7e7e7e" />
<text x="496.70" y="149.10" font-size="6.0" text-anchor="start" fill="#444" >G2/M</text>
<rect x="468.95" y="125.45" width="1.7" height="1.7" rx="0.5" fill="#333"/>
<rect x="479.15" y="157.85" width="1.7" height="1.7" rx="0.5" fill="#333"/>
<rect x="482.25" y="157.85" width="1.7" height="1.7" rx="0.5" fill="#333"/>
<rect x="485.35" y="157.85" width="1.7" height="1.7" rx="0.5" fill="#333"/>
<text x="5.80" y="197.02" font-size="10.2" text-anchor="start" fill="#000" font-weight="bold" stroke="#000" stroke-width="0.20" >B</text>
<rect x="30.30" y="196.00" width="1.90" height="1.56" fill="#111" />
<rect x="30.30" y="198.16" width="1.90" height="4.94" fill="#111" />
<rect x="118.40" y="197.30" width="1.60" height="1.12" fill="#111" />
<rect x="118.40" y="199.02" width="1.60" height="3.38" fill="#111" />
<rect x="120.80" y="197.30" width="1.60" height="1.12" fill="#111" />
<rect x="120.80" y="199.02" width="1.60" height="3.38" fill="#111" />
<text x="65.40" y="212.94" font-size="9.1" text-anchor="start" fill="#000" font-weight="bold" stroke="#000" stroke-width="0.18" textLength="21.90" lengthAdjust="spacingAndGlyphs" >HL60</text>
<text x="144.30" y="212.94" font-size="9.1" text-anchor="start" fill="#000" font-weight="bold" stroke="#000" stroke-width="0.18" textLength="17.30" lengthAdjust="spacingAndGlyphs" >URE</text>
<text x="6.80" y="234.64" font-size="8.1" text-anchor="start" fill="#000" font-weight="bold" stroke="#000" stroke-width="0.16" textLength="19.80" lengthAdjust="spacingAndGlyphs" >Hr 24</text>
<text x="6.90" y="290.73" font-size="8.1" text-anchor="start" fill="#000" font-weight="bold" stroke="#000" stroke-width="0.16" textLength="19.90" lengthAdjust="spacingAndGlyphs" >Hr 48</text>
<text x="6.60" y="343.23" font-size="8.1" text-anchor="start" fill="#000" font-weight="bold" stroke="#000" stroke-width="0.16" textLength="19.90" lengthAdjust="spacingAndGlyphs" >Hr 72</text>
<text transform="translate(32.60,292.40) rotate(-90)" x="0" y="1.89" font-size="5.4" text-anchor="middle" fill="#222" textLength="14.80" lengthAdjust="spacingAndGlyphs" >Count</text>
<text x="94.00" y="373.07" font-size="6.2" text-anchor="start" fill="#111" textLength="48.40" lengthAdjust="spacingAndGlyphs" stroke="#111" stroke-width="0.15">Cell Tracker Orange</text>
<rect x="38.70" y="218.40" width="71.80" height="39.70" fill="none" stroke="#858585" stroke-width="0.9"/>
<line x1="44.80" y1="257.10" x2="44.80" y2="258.10" stroke="#999" stroke-width="0.5" />
<line x1="44.80" y1="262.30" x2="44.80" y2="265.10" stroke="#999" stroke-width="0.5" />
<line x1="53.63" y1="257.10" x2="53.63" y2="258.10" stroke="#999" stroke-width="0.5" />
<ellipse cx="53.63" cy="263.90" rx="0.9" ry="1.1" fill="none" stroke="#999" stroke-width="0.5"/>
<line x1="52.03" y1="262.90" x2="52.03" y2="265.10" stroke="#aaa" stroke-width="0.45" />
<text x="55.13" y="263.17" font-size="2.2" text-anchor="middle" fill="#999" >2</text>
<line x1="71.08" y1="257.10" x2="71.08" y2="258.10" stroke="#999" stroke-width="0.5" />
<ellipse cx="71.08" cy="263.90" rx="0.9" ry="1.1" fill="none" stroke="#999" stroke-width="0.5"/>
<line x1="69.48" y1="262.90" x2="69.48" y2="265.10" stroke="#aaa" stroke-width="0.45" />
<text x="72.58" y="263.17" font-size="2.2" text-anchor="middle" fill="#999" >3</text>
<line x1="87.17" y1="257.10" x2="87.17" y2="258.10" stroke="#999" stroke-width="0.5" />
<ellipse cx="87.17" cy="263.90" rx="0.9" ry="1.1" fill="none" stroke="#999" stroke-width="0.5"/>
<line x1="85.57" y1="262.90" x2="85.57" y2="265.10" stroke="#aaa" stroke-width="0.45" />
<text x="88.67" y="263.17" font-size="2.2" text-anchor="middle" fill="#999" >4</text>
<line x1="102.67" y1="257.10" x2="102.67" y2="258.10" stroke="#999" stroke-width="0.5" />
<ellipse cx="102.67" cy="263.90" rx="0.9" ry="1.1" fill="none" stroke="#999" stroke-width="0.5"/>
<line x1="101.07" y1="262.90" x2="101.07" y2="265.10" stroke="#aaa" stroke-width="0.45" />
<text x="104.17" y="263.17" font-size="2.2" text-anchor="middle" fill="#999" >5</text>
<text x="37.20" y="258.24" font-size="2.4" text-anchor="end" fill="#aaa" >1</text>
<rect x="117.30" y="218.40" width="70.10" height="39.70" fill="none" stroke="#858585" stroke-width="0.9"/>
<line x1="123.26" y1="257.10" x2="123.26" y2="258.10" stroke="#999" stroke-width="0.5" />
<line x1="123.26" y1="262.30" x2="123.26" y2="265.10" stroke="#999" stroke-width="0.5" />
<line x1="131.88" y1="257.10" x2="131.88" y2="258.10" stroke="#999" stroke-width="0.5" />
<ellipse cx="131.88" cy="263.90" rx="0.9" ry="1.1" fill="none" stroke="#999" stroke-width="0.5"/>
<line x1="130.28" y1="262.90" x2="130.28" y2="265.10" stroke="#aaa" stroke-width="0.45" />
<text x="133.38" y="263.17" font-size="2.2" text-anchor="middle" fill="#999" >2</text>
<line x1="148.92" y1="257.10" x2="148.92" y2="258.10" stroke="#999" stroke-width="0.5" />
<ellipse cx="148.92" cy="263.90" rx="0.9" ry="1.1" fill="none" stroke="#999" stroke-width="0.5"/>
<line x1="147.32" y1="262.90" x2="147.32" y2="265.10" stroke="#aaa" stroke-width="0.45" />
<text x="150.42" y="263.17" font-size="2.2" text-anchor="middle" fill="#999" >3</text>
<line x1="164.62" y1="257.10" x2="164.62" y2="258.10" stroke="#999" stroke-width="0.5" />
<ellipse cx="164.62" cy="263.90" rx="0.9" ry="1.1" fill="none" stroke="#999" stroke-width="0.5"/>
<line x1="163.02" y1="262.90" x2="163.02" y2="265.10" stroke="#aaa" stroke-width="0.45" />
<text x="166.12" y="263.17" font-size="2.2" text-anchor="middle" fill="#999" >4</text>
<line x1="179.76" y1="257.10" x2="179.76" y2="258.10" stroke="#999" stroke-width="0.5" />
<ellipse cx="179.76" cy="263.90" rx="0.9" ry="1.1" fill="none" stroke="#999" stroke-width="0.5"/>
<line x1="178.16" y1="262.90" x2="178.16" y2="265.10" stroke="#aaa" stroke-width="0.45" />
<text x="181.26" y="263.17" font-size="2.2" text-anchor="middle" fill="#999" >5</text>
<text x="115.80" y="258.24" font-size="2.4" text-anchor="end" fill="#aaa" >1</text>
<rect x="38.70" y="271.80" width="71.80" height="35.80" fill="none" stroke="#858585" stroke-width="0.9"/>
<line x1="44.80" y1="306.60" x2="44.80" y2="307.60" stroke="#999" stroke-width="0.5" />
<line x1="44.80" y1="311.80" x2="44.80" y2="314.60" stroke="#999" stroke-width="0.5" />
<line x1="53.63" y1="306.60" x2="53.63" y2="307.60" stroke="#999" stroke-width="0.5" />
<ellipse cx="53.63" cy="313.40" rx="0.9" ry="1.1" fill="none" stroke="#999" stroke-width="0.5"/>
<line x1="52.03" y1="312.40" x2="52.03" y2="314.60" stroke="#aaa" stroke-width="0.45" />
<text x="55.13" y="312.67" font-size="2.2" text-anchor="middle" fill="#999" >2</text>
<line x1="71.08" y1="306.60" x2="71.08" y2="307.60" stroke="#999" stroke-width="0.5" />
<ellipse cx="71.08" cy="313.40" rx="0.9" ry="1.1" fill="none" stroke="#999" stroke-width="0.5"/>
<line x1="69.48" y1="312.40" x2="69.48" y2="314.60" stroke="#aaa" stroke-width="0.45" />
<text x="72.58" y="312.67" font-size="2.2" text-anchor="middle" fill="#999" >3</text>
<line x1="87.17" y1="306.60" x2="87.17" y2="307.60" stroke="#999" stroke-width="0.5" />
<ellipse cx="87.17" cy="313.40" rx="0.9" ry="1.1" fill="none" stroke="#999" stroke-width="0.5"/>
<line x1="85.57" y1="312.40" x2="85.57" y2="314.60" stroke="#aaa" stroke-width="0.45" />
<text x="88.67" y="312.67" font-size="2.2" text-anchor="middle" fill="#999" >4</text>
<line x1="102.67" y1="306.60" x2="102.67" y2="307.60" stroke="#999" stroke-width="0.5" />
<ellipse cx="102.67" cy="313.40" rx="0.9" ry="1.1" fill="none" stroke="#999" stroke-width="0.5"/>
<line x1="101.07" y1="312.40" x2="101.07" y2="314.60" stroke="#aaa" stroke-width="0.45" />
<text x="104.17" y="312.67" font-size="2.2" text-anchor="middle" fill="#999" >5</text>
<text x="37.20" y="307.74" font-size="2.4" text-anchor="end" fill="#aaa" >1</text>
<rect x="117.30" y="271.80" width="70.10" height="35.80" fill="none" stroke="#858585" stroke-width="0.9"/>
<line x1="123.26" y1="306.60" x2="123.26" y2="307.60" stroke="#999" stroke-width="0.5" />
<line x1="123.26" y1="311.80" x2="123.26" y2="314.60" stroke="#999" stroke-width="0.5" />
<line x1="131.88" y1="306.60" x2="131.88" y2="307.60" stroke="#999" stroke-width="0.5" />
<ellipse cx="131.88" cy="313.40" rx="0.9" ry="1.1" fill="none" stroke="#999" stroke-width="0.5"/>
<line x1="130.28" y1="312.40" x2="130.28" y2="314.60" stroke="#aaa" stroke-width="0.45" />
<text x="133.38" y="312.67" font-size="2.2" text-anchor="middle" fill="#999" >2</text>
<line x1="148.92" y1="306.60" x2="148.92" y2="307.60" stroke="#999" stroke-width="0.5" />
<ellipse cx="148.92" cy="313.40" rx="0.9" ry="1.1" fill="none" stroke="#999" stroke-width="0.5"/>
<line x1="147.32" y1="312.40" x2="147.32" y2="314.60" stroke="#aaa" stroke-width="0.45" />
<text x="150.42" y="312.67" font-size="2.2" text-anchor="middle" fill="#999" >3</text>
<line x1="164.62" y1="306.60" x2="164.62" y2="307.60" stroke="#999" stroke-width="0.5" />
<ellipse cx="164.62" cy="313.40" rx="0.9" ry="1.1" fill="none" stroke="#999" stroke-width="0.5"/>
<line x1="163.02" y1="312.40" x2="163.02" y2="314.60" stroke="#aaa" stroke-width="0.45" />
<text x="166.12" y="312.67" font-size="2.2" text-anchor="middle" fill="#999" >4</text>
<line x1="179.76" y1="306.60" x2="179.76" y2="307.60" stroke="#999" stroke-width="0.5" />
<ellipse cx="179.76" cy="313.40" rx="0.9" ry="1.1" fill="none" stroke="#999" stroke-width="0.5"/>
<line x1="178.16" y1="312.40" x2="178.16" y2="314.60" stroke="#aaa" stroke-width="0.45" />
<text x="181.26" y="312.67" font-size="2.2" text-anchor="middle" fill="#999" >5</text>
<text x="115.80" y="307.74" font-size="2.4" text-anchor="end" fill="#aaa" >1</text>
<rect x="38.70" y="323.00" width="71.80" height="34.30" fill="none" stroke="#858585" stroke-width="0.9"/>
<line x1="44.80" y1="356.30" x2="44.80" y2="357.30" stroke="#999" stroke-width="0.5" />
<line x1="44.80" y1="361.50" x2="44.80" y2="364.30" stroke="#999" stroke-width="0.5" />
<line x1="53.63" y1="356.30" x2="53.63" y2="357.30" stroke="#999" stroke-width="0.5" />
<ellipse cx="53.63" cy="363.10" rx="0.9" ry="1.1" fill="none" stroke="#999" stroke-width="0.5"/>
<line x1="52.03" y1="362.10" x2="52.03" y2="364.30" stroke="#aaa" stroke-width="0.45" />
<text x="55.13" y="362.37" font-size="2.2" text-anchor="middle" fill="#999" >2</text>
<line x1="71.08" y1="356.30" x2="71.08" y2="357.30" stroke="#999" stroke-width="0.5" />
<ellipse cx="71.08" cy="363.10" rx="0.9" ry="1.1" fill="none" stroke="#999" stroke-width="0.5"/>
<line x1="69.48" y1="362.10" x2="69.48" y2="364.30" stroke="#aaa" stroke-width="0.45" />
<text x="72.58" y="362.37" font-size="2.2" text-anchor="middle" fill="#999" >3</text>
<line x1="87.17" y1="356.30" x2="87.17" y2="357.30" stroke="#999" stroke-width="0.5" />
<ellipse cx="87.17" cy="363.10" rx="0.9" ry="1.1" fill="none" stroke="#999" stroke-width="0.5"/>
<line x1="85.57" y1="362.10" x2="85.57" y2="364.30" stroke="#aaa" stroke-width="0.45" />
<text x="88.67" y="362.37" font-size="2.2" text-anchor="middle" fill="#999" >4</text>
<line x1="102.67" y1="356.30" x2="102.67" y2="357.30" stroke="#999" stroke-width="0.5" />
<ellipse cx="102.67" cy="363.10" rx="0.9" ry="1.1" fill="none" stroke="#999" stroke-width="0.5"/>
<line x1="101.07" y1="362.10" x2="101.07" y2="364.30" stroke="#aaa" stroke-width="0.45" />
<text x="104.17" y="362.37" font-size="2.2" text-anchor="middle" fill="#999" >5</text>
<text x="37.20" y="357.44" font-size="2.4" text-anchor="end" fill="#aaa" >1</text>
<rect x="117.30" y="323.00" width="70.10" height="34.30" fill="none" stroke="#858585" stroke-width="0.9"/>
<line x1="123.26" y1="356.30" x2="123.26" y2="357.30" stroke="#999" stroke-width="0.5" />
<line x1="123.26" y1="361.50" x2="123.26" y2="364.30" stroke="#999" stroke-width="0.5" />
<line x1="131.88" y1="356.30" x2="131.88" y2="357.30" stroke="#999" stroke-width="0.5" />
<ellipse cx="131.88" cy="363.10" rx="0.9" ry="1.1" fill="none" stroke="#999" stroke-width="0.5"/>
<line x1="130.28" y1="362.10" x2="130.28" y2="364.30" stroke="#aaa" stroke-width="0.45" />
<text x="133.38" y="362.37" font-size="2.2" text-anchor="middle" fill="#999" >2</text>
<line x1="148.92" y1="356.30" x2="148.92" y2="357.30" stroke="#999" stroke-width="0.5" />
<ellipse cx="148.92" cy="363.10" rx="0.9" ry="1.1" fill="none" stroke="#999" stroke-width="0.5"/>
<line x1="147.32" y1="362.10" x2="147.32" y2="364.30" stroke="#aaa" stroke-width="0.45" />
<text x="150.42" y="362.37" font-size="2.2" text-anchor="middle" fill="#999" >3</text>
<line x1="164.62" y1="356.30" x2="164.62" y2="357.30" stroke="#999" stroke-width="0.5" />
<ellipse cx="164.62" cy="363.10" rx="0.9" ry="1.1" fill="none" stroke="#999" stroke-width="0.5"/>
<line x1="163.02" y1="362.10" x2="163.02" y2="364.30" stroke="#aaa" stroke-width="0.45" />
<text x="166.12" y="362.37" font-size="2.2" text-anchor="middle" fill="#999" >4</text>
<line x1="179.76" y1="356.30" x2="179.76" y2="357.30" stroke="#999" stroke-width="0.5" />
<ellipse cx="179.76" cy="363.10" rx="0.9" ry="1.1" fill="none" stroke="#999" stroke-width="0.5"/>
<line x1="178.16" y1="362.10" x2="178.16" y2="364.30" stroke="#aaa" stroke-width="0.45" />
<text x="181.26" y="362.37" font-size="2.2" text-anchor="middle" fill="#999" >5</text>
<text x="115.80" y="357.44" font-size="2.4" text-anchor="end" fill="#aaa" >1</text>
<polyline points="63.0,257.7 63.4,257.6 63.8,257.4 64.1,257.2 64.5,257.0 64.9,256.7 65.3,256.3 65.7,255.8 66.0,255.2 66.4,254.5 66.8,253.6 67.2,252.5 67.6,251.2 67.9,249.7 68.3,248.0 68.7,246.0 69.1,243.8 69.5,241.4 69.8,238.8 70.2,236.1 70.6,233.3 71.0,230.6 71.4,228.0 71.7,225.8 72.1,224.2 72.4,223.6 72.5,223.7 72.9,224.8 73.3,226.5 73.6,228.6 74.0,231.0 74.4,233.4 74.8,236.0 75.2,238.4 75.5,240.8 75.9,243.0 76.3,245.1 76.7,247.0 77.1,248.7 77.4,250.2 77.8,251.5 78.2,252.6 78.6,253.6 79.0,254.4 79.3,255.1 79.7,255.7 80.1,256.1 80.5,256.5 80.9,256.8 81.2,257.1 81.6,257.3 82.0,257.5" fill="none" stroke="#8adcdc" stroke-width="0.6" stroke-linejoin="round" />
<polyline points="64.0,257.7 64.4,257.6 64.7,257.5 65.1,257.4 65.4,257.1 65.8,256.9 66.2,256.5 66.5,256.1 66.9,255.5 67.2,254.8 67.6,254.0 68.0,252.9 68.3,251.7 68.7,250.3 69.0,248.6 69.4,246.7 69.8,244.5 70.1,242.1 70.5,239.4 70.8,236.7 71.2,233.8 71.6,230.9 71.9,228.2 72.3,225.7 72.6,223.8 73.0,222.8 73.0,222.8 73.4,223.6 73.7,225.3 74.1,227.4 74.4,229.8 74.8,232.3 75.2,234.9 75.5,237.5 75.9,240.0 76.2,242.3 76.6,244.5 77.0,246.4 77.3,248.2 77.7,249.8 78.0,251.2 78.4,252.4 78.8,253.4 79.1,254.2 79.5,255.0 79.8,255.6 80.2,256.1 80.6,256.5 80.9,256.8 81.3,257.1 81.6,257.3 82.0,257.4" fill="none" stroke="#58c4a2" stroke-width="0.75" stroke-linejoin="round" />
<polyline points="79.0,257.5 79.3,257.3 79.7,257.1 80.0,256.8 80.4,256.3 80.7,255.8 81.0,255.2 81.4,254.4 81.7,253.4 82.1,252.2 82.4,250.8 82.7,249.1 83.1,247.2 83.4,245.0 83.8,242.6 84.1,240.0 84.4,237.3 84.8,234.5 85.1,231.8 85.5,229.3 85.8,227.3 86.1,226.1 86.2,226.0 86.5,226.5 86.8,227.6 87.2,229.2 87.5,231.0 87.8,233.0 88.2,235.0 88.5,237.1 88.9,239.2 89.2,241.2 89.5,243.1 89.9,244.9 90.2,246.6 90.6,248.1 90.9,249.5 91.2,250.7 91.6,251.8 91.9,252.8 92.3,253.6 92.6,254.3 92.9,255.0 93.3,255.5 93.6,255.9 94.0,256.3 94.3,256.6 94.6,256.9 95.0,257.1 95.3,257.3 95.7,257.4 96.0,257.6" fill="none" stroke="#d88c96" stroke-width="0.8" stroke-linejoin="round" />
<text x="42.60" y="227.42" font-size="3.2" text-anchor="start" fill="#d87878" textLength="11.40" lengthAdjust="spacingAndGlyphs" >Mod fit</text>
<text x="42.60" y="231.62" font-size="3.2" text-anchor="start" fill="#5cc0d0" textLength="15.90" lengthAdjust="spacingAndGlyphs" >Untreated</text>
<text x="42.60" y="235.72" font-size="3.2" text-anchor="start" fill="#e8a070" textLength="17.40" lengthAdjust="spacingAndGlyphs" >5 ug/ml EP</text>
<polyline points="55.0,306.9 55.4,306.7 55.9,306.5 56.3,306.3 56.8,305.9 57.2,305.5 57.6,305.0 58.1,304.4 58.5,303.7 59.0,302.7 59.4,301.6 59.8,300.4 60.3,298.9 60.7,297.2 61.2,295.3 61.6,293.2 62.0,290.9 62.5,288.5 62.9,286.0 63.4,283.6 63.8,281.3 64.2,279.4 64.7,277.9 65.0,277.4 65.1,277.5 65.6,278.3 66.0,279.6 66.4,281.3 66.9,283.1 67.3,285.1 67.8,287.1 68.2,289.2 68.6,291.1 69.1,293.0 69.5,294.8 70.0,296.4 70.4,297.9 70.8,299.2 71.3,300.4 71.7,301.5 72.2,302.4 72.6,303.2 73.0,303.9 73.5,304.5 73.9,305.0 74.4,305.5 74.8,305.8 75.2,306.1 75.7,306.3 76.1,306.5 76.6,306.7 77.0,306.8" fill="none" stroke="#6cc6d8" stroke-width="0.8" stroke-linejoin="round" />
<polyline points="60.0,306.9 60.4,306.7 60.8,306.5 61.2,306.3 61.6,306.1 62.0,305.7 62.4,305.3 62.8,304.8 63.2,304.2 63.6,303.5 64.0,302.6 64.4,301.6 64.8,300.5 65.2,299.2 65.6,297.7 66.0,296.0 66.4,294.1 66.8,292.2 67.2,290.0 67.6,287.8 68.0,285.6 68.4,283.4 68.8,281.3 69.2,279.5 69.6,278.1 70.0,277.4 70.0,277.4 70.4,278.0 70.8,279.2 71.2,280.7 71.6,282.5 72.0,284.4 72.4,286.4 72.8,288.4 73.2,290.3 73.6,292.2 74.0,294.0 74.4,295.7 74.8,297.2 75.2,298.6 75.6,299.8 76.0,300.9 76.4,301.9 76.8,302.8 77.2,303.5 77.6,304.2 78.0,304.7 78.4,305.2 78.8,305.6 79.2,305.9 79.6,306.2 80.0,306.4" fill="none" stroke="#ecb48c" stroke-width="0.8" stroke-linejoin="round" />
<polyline points="79.0,306.9 79.3,306.8 79.6,306.7 80.0,306.5 80.3,306.2 80.6,305.9 80.9,305.5 81.2,305.1 81.6,304.5 81.9,303.8 82.2,302.9 82.5,301.9 82.8,300.7 83.2,299.4 83.5,297.8 83.8,296.1 84.1,294.2 84.4,292.1 84.8,289.9 85.1,287.6 85.4,285.3 85.7,283.1 86.0,281.0 86.4,279.4 86.7,278.3 86.8,278.1 87.0,278.4 87.3,279.3 87.6,280.7 88.0,282.3 88.3,284.1 88.6,286.0 88.9,287.9 89.2,289.8 89.6,291.7 89.9,293.4 90.2,295.1 90.5,296.6 90.8,298.1 91.2,299.3 91.5,300.5 91.8,301.5 92.1,302.4 92.4,303.2 92.8,303.9 93.1,304.5 93.4,305.0 93.7,305.4 94.0,305.7 94.4,306.0 94.7,306.3 95.0,306.5" fill="none" stroke="#d88c96" stroke-width="0.8" stroke-linejoin="round" />
<polyline points="49.0,356.5 49.4,356.3 49.8,356.1 50.2,355.8 50.6,355.4 51.0,355.0 51.4,354.5 51.8,353.8 52.2,353.1 52.6,352.2 53.0,351.2 53.4,350.0 53.8,348.7 54.2,347.2 54.6,345.6 55.0,343.8 55.4,341.8 55.8,339.8 56.2,337.7 56.6,335.5 57.0,333.5 57.4,331.5 57.8,329.8 58.2,328.5 58.6,327.8 58.6,327.8 59.0,328.3 59.4,329.4 59.8,330.8 60.2,332.4 60.6,334.2 61.0,336.0 61.4,337.9 61.8,339.7 62.2,341.5 62.6,343.2 63.0,344.8 63.4,346.3 63.8,347.7 64.2,349.0 64.6,350.1 65.0,351.1 65.4,352.0 65.8,352.8 66.2,353.5 66.6,354.1 67.0,354.6 67.4,355.1 67.8,355.4 68.2,355.8 68.6,356.0 69.0,356.2" fill="none" stroke="#6cc6d8" stroke-width="0.8" stroke-linejoin="round" />
<polyline points="58.0,356.7 58.4,356.5 58.8,356.4 59.2,356.1 59.6,355.9 60.0,355.5 60.4,355.1 60.8,354.6 61.2,354.1 61.6,353.4 62.0,352.6 62.4,351.7 62.8,350.6 63.2,349.4 63.6,348.0 64.0,346.5 64.4,344.9 64.8,343.1 65.2,341.2 65.6,339.2 66.0,337.2 66.4,335.2 66.8,333.2 67.2,331.5 67.6,329.9 68.0,328.8 68.3,328.4 68.4,328.5 68.8,329.3 69.2,330.6 69.6,332.3 70.0,334.2 70.4,336.2 70.8,338.2 71.2,340.2 71.6,342.2 72.0,344.0 72.4,345.7 72.8,347.3 73.2,348.7 73.6,350.0 74.0,351.1 74.4,352.1 74.8,353.0 75.2,353.7 75.6,354.4 76.0,354.9 76.4,355.3 76.8,355.7 77.2,356.0 77.6,356.3 78.0,356.5" fill="none" stroke="#ecb48c" stroke-width="0.8" stroke-linejoin="round" />
<polyline points="78.0,356.9 78.3,356.8 78.6,356.6 79.0,356.5 79.3,356.2 79.6,355.9 79.9,355.6 80.2,355.1 80.6,354.5 80.9,353.8 81.2,353.0 81.5,351.9 81.8,350.8 82.2,349.4 82.5,347.8 82.8,346.0 83.1,344.1 83.4,341.9 83.8,339.7 84.1,337.4 84.4,335.2 84.7,333.0 85.0,331.2 85.4,329.8 85.6,329.3 85.7,329.4 86.0,330.1 86.3,331.4 86.6,332.9 87.0,334.6 87.3,336.5 87.6,338.4 87.9,340.3 88.2,342.1 88.6,343.9 88.9,345.5 89.2,347.0 89.5,348.4 89.8,349.7 90.2,350.8 90.5,351.8 90.8,352.7 91.1,353.4 91.4,354.1 91.8,354.6 92.1,355.1 92.4,355.5 92.7,355.8 93.0,356.1 93.4,356.3 93.7,356.5 94.0,356.6" fill="none" stroke="#d88c96" stroke-width="0.8" stroke-linejoin="round" />
<polyline points="124.0,257.2 124.6,257.0 125.2,256.8 125.9,256.5 126.5,256.2 127.1,255.8 127.7,255.3 128.3,254.7 129.0,254.1 129.6,253.3 130.2,252.5 130.8,251.5 131.4,250.3 132.1,249.1 132.7,247.7 133.3,246.2 133.9,244.6 134.5,242.8 135.2,241.0 135.8,239.1 136.4,237.2 137.0,235.3 137.6,233.5 138.3,231.9 138.9,230.5 139.5,229.4 140.0,229.0 140.1,229.0 140.7,229.9 141.4,231.3 142.0,233.0 142.6,234.9 143.2,237.0 143.8,239.1 144.5,241.1 145.1,243.1 145.7,245.0 146.3,246.8 146.9,248.3 147.6,249.8 148.2,251.1 148.8,252.2 149.4,253.2 150.0,254.0 150.7,254.7 151.3,255.3 151.9,255.9 152.5,256.3 153.1,256.6 153.8,256.9 154.4,257.1 155.0,257.3" fill="none" stroke="#6cc6d8" stroke-width="0.8" stroke-linejoin="round" />
<polyline points="126.0,257.2 126.6,257.0 127.2,256.7 127.9,256.4 128.5,256.1 129.1,255.6 129.7,255.1 130.3,254.5 131.0,253.8 131.6,252.9 132.2,251.9 132.8,250.8 133.4,249.6 134.1,248.1 134.7,246.6 135.3,244.8 135.9,243.0 136.5,241.0 137.2,238.8 137.8,236.7 138.4,234.4 139.0,232.2 139.6,230.1 140.3,228.2 140.9,226.5 141.5,225.3 142.0,224.8 142.1,224.9 142.7,225.8 143.4,227.4 144.0,229.4 144.6,231.6 145.2,233.9 145.8,236.3 146.5,238.7 147.1,241.0 147.7,243.1 148.3,245.1 148.9,246.9 149.6,248.6 150.2,250.1 150.8,251.4 151.4,252.5 152.0,253.4 152.7,254.3 153.3,255.0 153.9,255.6 154.5,256.0 155.1,256.4 155.8,256.8 156.4,257.0 157.0,257.2" fill="none" stroke="#ecb48c" stroke-width="0.8" stroke-linejoin="round" />
<path d="M139.00,258.00 C140.00,257.50 143.17,256.25 145.00,255.00 C146.83,253.75 148.50,251.75 150.00,250.50 C151.50,249.25 152.83,248.42 154.00,247.50 C155.17,246.58 156.05,246.20 157.00,245.00 C157.95,243.80 158.90,242.30 159.70,240.30 C160.50,238.30 161.18,235.18 161.80,233.00 C162.42,230.82 162.95,228.40 163.40,227.20 C163.85,226.00 164.13,225.75 164.50,225.80 C164.87,225.85 165.25,225.97 165.60,227.50 C165.95,229.03 166.27,232.08 166.60,235.00 C166.93,237.92 167.27,242.57 167.60,245.00 C167.93,247.43 168.03,248.43 168.60,249.60 C169.17,250.77 170.10,251.18 171.00,252.00 C171.90,252.82 172.75,253.62 174.00,254.50 C175.25,255.38 176.83,256.72 178.50,257.30 C180.17,257.88 183.08,257.88 184.00,258.00" fill="none" stroke="#d88c96" stroke-width="0.8" stroke-linejoin="round"/>
<polyline points="121.0,307.1 121.5,306.9 122.0,306.7 122.4,306.4 122.9,306.1 123.4,305.6 123.9,305.1 124.4,304.4 124.8,303.5 125.3,302.5 125.8,301.2 126.3,299.8 126.8,298.1 127.2,296.3 127.7,294.2 128.2,291.9 128.7,289.5 129.2,287.1 129.6,284.7 130.1,282.5 130.6,280.7 131.1,279.6 131.2,279.5 131.6,279.8 132.0,280.7 132.5,281.8 133.0,283.3 133.5,284.8 134.0,286.4 134.4,288.1 134.9,289.8 135.4,291.5 135.9,293.1 136.4,294.6 136.8,296.1 137.3,297.4 137.8,298.6 138.3,299.8 138.8,300.8 139.2,301.7 139.7,302.5 140.2,303.3 140.7,303.9 141.2,304.5 141.6,305.0 142.1,305.4 142.6,305.7 143.1,306.0 143.6,306.3 144.0,306.5 144.5,306.7 145.0,306.8" fill="none" stroke="#6cc6d8" stroke-width="0.8" stroke-linejoin="round" />
<polyline points="126.0,307.0 126.5,306.9 126.9,306.7 127.4,306.5 127.8,306.3 128.3,306.0 128.8,305.7 129.2,305.3 129.7,304.9 130.1,304.3 130.6,303.7 131.1,303.0 131.5,302.2 132.0,301.3 132.4,300.3 132.9,299.1 133.4,297.9 133.8,296.5 134.3,295.1 134.7,293.5 135.2,291.9 135.7,290.2 136.1,288.5 136.6,286.9 137.0,285.3 137.5,283.8 138.0,282.6 138.4,281.7 138.8,281.3 138.9,281.3 139.3,282.2 139.8,283.6 140.3,285.4 140.7,287.3 141.2,289.4 141.6,291.4 142.1,293.4 142.6,295.3 143.0,297.1 143.5,298.7 143.9,300.1 144.4,301.3 144.9,302.4 145.3,303.4 145.8,304.2 146.2,304.8 146.7,305.4 147.2,305.8 147.6,306.2 148.1,306.5 148.5,306.7 149.0,306.9" fill="none" stroke="#ecb48c" stroke-width="0.8" stroke-linejoin="round" />
<path d="M141.00,307.50 C141.83,307.08 144.50,306.08 146.00,305.00 C147.50,303.92 148.80,302.12 150.00,301.00 C151.20,299.88 152.18,298.93 153.20,298.30 C154.22,297.67 155.13,298.00 156.10,297.20 C157.07,296.40 158.15,294.77 159.00,293.50 C159.85,292.23 160.57,291.35 161.20,289.60 C161.83,287.85 162.25,284.87 162.80,283.00 C163.35,281.13 164.00,278.90 164.50,278.40 C165.00,277.90 165.42,278.40 165.80,280.00 C166.18,281.60 166.47,285.33 166.80,288.00 C167.13,290.67 167.50,294.17 167.80,296.00 C168.10,297.83 167.78,297.77 168.60,299.00 C169.42,300.23 171.05,302.07 172.70,303.40 C174.35,304.73 176.62,306.32 178.50,307.00 C180.38,307.68 183.08,307.42 184.00,307.50" fill="none" stroke="#d88c96" stroke-width="0.8" stroke-linejoin="round"/>
<polyline points="120.0,356.6 120.4,356.5 120.8,356.4 121.2,356.3 121.6,356.1 122.0,355.9 122.4,355.5 122.8,355.1 123.2,354.6 123.6,353.9 124.0,353.1 124.4,352.1 124.8,350.9 125.2,349.5 125.6,347.9 126.0,346.2 126.4,344.2 126.8,342.2 127.2,340.1 127.6,338.2 128.0,336.4 128.4,335.1 128.7,334.6 128.8,334.6 129.2,335.2 129.6,336.1 130.0,337.2 130.4,338.5 130.8,339.9 131.2,341.3 131.6,342.7 132.0,344.1 132.4,345.4 132.8,346.7 133.2,347.9 133.6,349.0 134.0,350.1 134.4,351.0 134.8,351.8 135.2,352.5 135.6,353.2 136.0,353.8 136.4,354.3 136.8,354.7 137.2,355.0 137.6,355.4 138.0,355.6 138.4,355.8 138.8,356.0 139.2,356.2 139.6,356.3 140.0,356.4" fill="none" stroke="#6cc6d8" stroke-width="0.8" stroke-linejoin="round" />
<polyline points="126.0,356.3 126.4,356.2 126.8,356.1 127.2,355.9 127.6,355.7 128.0,355.4 128.4,355.1 128.8,354.8 129.2,354.4 129.6,353.9 130.0,353.4 130.4,352.8 130.8,352.1 131.2,351.2 131.6,350.3 132.0,349.3 132.4,348.2 132.8,347.0 133.2,345.6 133.6,344.2 134.0,342.7 134.4,341.1 134.8,339.4 135.2,337.7 135.6,336.1 136.0,334.4 136.4,332.9 136.8,331.5 137.2,330.4 137.6,329.7 137.8,329.5 138.0,329.8 138.4,331.3 138.8,333.4 139.2,335.9 139.6,338.4 140.0,341.0 140.4,343.4 140.8,345.7 141.2,347.7 141.6,349.4 142.0,350.9 142.4,352.2 142.8,353.2 143.2,354.1 143.6,354.7 144.0,355.3 144.4,355.7 144.8,356.0 145.2,356.2 145.6,356.4 146.0,356.5" fill="none" stroke="#ecb48c" stroke-width="0.8" stroke-linejoin="round" />
<path d="M142.00,356.80 C142.83,356.33 145.50,355.05 147.00,354.00 C148.50,352.95 149.83,351.45 151.00,350.50 C152.17,349.55 153.15,348.90 154.00,348.30 C154.85,347.70 155.27,347.62 156.10,346.90 C156.93,346.18 158.15,344.97 159.00,344.00 C159.85,343.03 160.53,342.93 161.20,341.10 C161.87,339.27 162.40,334.93 163.00,333.00 C163.60,331.07 164.30,329.87 164.80,329.50 C165.30,329.13 165.60,329.22 166.00,330.80 C166.40,332.38 166.82,336.13 167.20,339.00 C167.58,341.87 167.92,345.85 168.30,348.00 C168.68,350.15 168.52,350.82 169.50,351.90 C170.48,352.98 172.45,353.73 174.20,354.50 C175.95,355.27 178.20,356.12 180.00,356.50 C181.80,356.88 184.17,356.75 185.00,356.80" fill="none" stroke="#d88c96" stroke-width="0.8" stroke-linejoin="round"/>
<rect x="209.70" y="200.20" width="1.90" height="1.39" fill="#111" />
<rect x="209.70" y="202.19" width="1.90" height="4.31" fill="#111" />
<rect x="212.35" y="200.20" width="1.90" height="1.39" fill="#111" />
<rect x="212.35" y="202.19" width="1.90" height="4.31" fill="#111" />
<rect x="215.00" y="200.20" width="1.90" height="1.39" fill="#111" />
<rect x="215.00" y="202.19" width="1.90" height="4.31" fill="#111" />
<text x="281.40" y="209.06" font-size="8.6" text-anchor="start" fill="#000" font-weight="bold" stroke="#000" stroke-width="0.17" textLength="20.60" lengthAdjust="spacingAndGlyphs" >HL60</text>
<line x1="242.90" y1="207.10" x2="242.90" y2="263.40" stroke="#8c8c8c" stroke-width="0.8" />
<line x1="242.90" y1="263.40" x2="354.50" y2="263.40" stroke="#8c8c8c" stroke-width="0.8" />
<line x1="241.30" y1="263.40" x2="242.90" y2="263.40" stroke="#8c8c8c" stroke-width="0.6" />
<text x="234.20" y="265.85" font-size="7.0" text-anchor="middle" fill="#333" >0</text>
<line x1="241.30" y1="249.32" x2="242.90" y2="249.32" stroke="#8c8c8c" stroke-width="0.6" />
<text x="234.20" y="251.77" font-size="7.0" text-anchor="middle" fill="#333" >1</text>
<line x1="241.30" y1="235.24" x2="242.90" y2="235.24" stroke="#8c8c8c" stroke-width="0.6" />
<text x="234.20" y="237.69" font-size="7.0" text-anchor="middle" fill="#333" >2</text>
<line x1="241.30" y1="221.16" x2="242.90" y2="221.16" stroke="#8c8c8c" stroke-width="0.6" />
<text x="234.20" y="223.61" font-size="7.0" text-anchor="middle" fill="#333" >3</text>
<line x1="241.30" y1="207.08" x2="242.90" y2="207.08" stroke="#8c8c8c" stroke-width="0.6" />
<text x="234.20" y="209.53" font-size="7.0" text-anchor="middle" fill="#333" >4</text>
<line x1="280.10" y1="263.40" x2="280.10" y2="265.00" stroke="#8c8c8c" stroke-width="0.6" />
<line x1="317.30" y1="263.40" x2="317.30" y2="265.00" stroke="#8c8c8c" stroke-width="0.6" />
<line x1="354.50" y1="263.40" x2="354.50" y2="265.00" stroke="#8c8c8c" stroke-width="0.6" />
<rect x="254.30" y="247.91" width="14.40" height="15.49" fill="#5a5a5a" />
<line x1="261.50" y1="247.21" x2="261.50" y2="247.91" stroke="#333" stroke-width="0.7" />
<line x1="260.10" y1="247.21" x2="262.90" y2="247.21" stroke="#333" stroke-width="0.7" />
<line x1="260.10" y1="247.91" x2="262.90" y2="247.91" stroke="#333" stroke-width="0.7" />
<rect x="291.50" y="239.46" width="14.40" height="23.94" fill="#5a5a5a" />
<line x1="298.70" y1="237.77" x2="298.70" y2="239.46" stroke="#333" stroke-width="0.7" />
<line x1="297.30" y1="237.77" x2="300.10" y2="237.77" stroke="#333" stroke-width="0.7" />
<line x1="297.30" y1="239.46" x2="300.10" y2="239.46" stroke="#333" stroke-width="0.7" />
<rect x="328.70" y="221.16" width="14.40" height="42.24" fill="#5a5a5a" />
<line x1="335.90" y1="220.46" x2="335.90" y2="221.16" stroke="#333" stroke-width="0.7" />
<line x1="334.50" y1="220.46" x2="337.30" y2="220.46" stroke="#333" stroke-width="0.7" />
<line x1="334.50" y1="221.16" x2="337.30" y2="221.16" stroke="#333" stroke-width="0.7" />
<text x="261.50" y="276.05" font-size="7.0" text-anchor="middle" fill="#222" >24</text>
<text x="298.70" y="276.05" font-size="7.0" text-anchor="middle" fill="#222" >48</text>
<text x="335.90" y="276.05" font-size="7.0" text-anchor="middle" fill="#222" >72</text>
<text x="288.30" y="281.07" font-size="6.5" text-anchor="start" fill="#000" font-weight="bold" stroke="#000" stroke-width="0.13" textLength="25.00" lengthAdjust="spacingAndGlyphs" >Time (h)</text>
<text transform="translate(224.40,238.20) rotate(-90)" x="0" y="2.17" font-size="6.2" text-anchor="middle" fill="#000" font-weight="bold" stroke="#000" stroke-width="0.12" textLength="41.00" lengthAdjust="spacingAndGlyphs" >MFI Fold Change</text>
<rect x="261.90" y="238.75" width="1.7" height="1.7" rx="0.5" fill="#333"/>
<rect x="265.00" y="238.75" width="1.7" height="1.7" rx="0.5" fill="#333"/>
<rect x="295.25" y="228.45" width="1.7" height="1.7" rx="0.5" fill="#333"/>
<rect x="298.35" y="228.45" width="1.7" height="1.7" rx="0.5" fill="#333"/>
<rect x="301.45" y="228.45" width="1.7" height="1.7" rx="0.5" fill="#333"/>
<rect x="330.95" y="212.95" width="1.7" height="1.7" rx="0.5" fill="#333"/>
<rect x="334.05" y="212.95" width="1.7" height="1.7" rx="0.5" fill="#333"/>
<rect x="337.15" y="212.95" width="1.7" height="1.7" rx="0.5" fill="#333"/>
<rect x="210.60" y="297.00" width="1.90" height="1.39" fill="#111" />
<rect x="210.60" y="298.99" width="1.90" height="4.31" fill="#111" />
<polygon points="213.00,298.89 214.60,298.89 215.10,301.50 215.60,298.89 217.20,298.89 216.00,303.30 214.20,303.30" fill="#111"/>
<text x="285.60" y="311.71" font-size="8.6" text-anchor="start" fill="#000" font-weight="bold" stroke="#000" stroke-width="0.17" textLength="17.30" lengthAdjust="spacingAndGlyphs" >URE</text>
<line x1="249.50" y1="315.40" x2="249.50" y2="372.50" stroke="#8c8c8c" stroke-width="0.8" />
<line x1="249.50" y1="372.50" x2="357.50" y2="372.50" stroke="#8c8c8c" stroke-width="0.8" />
<line x1="247.90" y1="372.50" x2="249.50" y2="372.50" stroke="#8c8c8c" stroke-width="0.6" />
<text x="241.20" y="374.95" font-size="7.0" text-anchor="middle" fill="#333" >0</text>
<line x1="247.90" y1="358.25" x2="249.50" y2="358.25" stroke="#8c8c8c" stroke-width="0.6" />
<text x="241.20" y="360.70" font-size="7.0" text-anchor="middle" fill="#333" >1</text>
<line x1="247.90" y1="344.00" x2="249.50" y2="344.00" stroke="#8c8c8c" stroke-width="0.6" />
<text x="241.20" y="346.45" font-size="7.0" text-anchor="middle" fill="#333" >2</text>
<line x1="247.90" y1="329.75" x2="249.50" y2="329.75" stroke="#8c8c8c" stroke-width="0.6" />
<text x="241.20" y="332.20" font-size="7.0" text-anchor="middle" fill="#333" >3</text>
<line x1="247.90" y1="315.50" x2="249.50" y2="315.50" stroke="#8c8c8c" stroke-width="0.6" />
<text x="241.20" y="317.95" font-size="7.0" text-anchor="middle" fill="#333" >4</text>
<line x1="285.50" y1="372.50" x2="285.50" y2="374.10" stroke="#8c8c8c" stroke-width="0.6" />
<line x1="321.50" y1="372.50" x2="321.50" y2="374.10" stroke="#8c8c8c" stroke-width="0.6" />
<line x1="357.50" y1="372.50" x2="357.50" y2="374.10" stroke="#8c8c8c" stroke-width="0.6" />
<rect x="260.80" y="355.40" width="14.40" height="17.10" fill="#5a5a5a" />
<line x1="268.00" y1="354.55" x2="268.00" y2="355.40" stroke="#333" stroke-width="0.7" />
<line x1="266.60" y1="354.55" x2="269.40" y2="354.55" stroke="#333" stroke-width="0.7" />
<line x1="266.60" y1="355.40" x2="269.40" y2="355.40" stroke="#333" stroke-width="0.7" />
<rect x="296.80" y="338.30" width="14.40" height="34.20" fill="#5a5a5a" />
<line x1="304.00" y1="335.45" x2="304.00" y2="338.30" stroke="#333" stroke-width="0.7" />
<line x1="302.60" y1="335.45" x2="305.40" y2="335.45" stroke="#333" stroke-width="0.7" />
<line x1="302.60" y1="338.30" x2="305.40" y2="338.30" stroke="#333" stroke-width="0.7" />
<rect x="332.80" y="327.61" width="14.40" height="44.89" fill="#5a5a5a" />
<line x1="340.00" y1="322.34" x2="340.00" y2="327.61" stroke="#333" stroke-width="0.7" />
<line x1="338.60" y1="322.34" x2="341.40" y2="322.34" stroke="#333" stroke-width="0.7" />
<line x1="338.60" y1="327.61" x2="341.40" y2="327.61" stroke="#333" stroke-width="0.7" />
<text x="268.00" y="385.15" font-size="7.0" text-anchor="middle" fill="#222" >24</text>
<text x="304.00" y="385.15" font-size="7.0" text-anchor="middle" fill="#222" >48</text>
<text x="340.00" y="385.15" font-size="7.0" text-anchor="middle" fill="#222" >72</text>
<text x="296.90" y="390.97" font-size="6.5" text-anchor="start" fill="#000" font-weight="bold" stroke="#000" stroke-width="0.13" textLength="26.40" lengthAdjust="spacingAndGlyphs" >Time (h)</text>
<text transform="translate(229.50,349.30) rotate(-90)" x="0" y="2.17" font-size="6.2" text-anchor="middle" fill="#000" font-weight="bold" stroke="#000" stroke-width="0.12" textLength="41.80" lengthAdjust="spacingAndGlyphs" >MFI Fold Change</text>
<rect x="267.95" y="343.45" width="1.7" height="1.7" rx="0.5" fill="#333"/>
<rect x="301.70" y="328.55" width="1.7" height="1.7" rx="0.5" fill="#333"/>
<rect x="304.80" y="328.55" width="1.7" height="1.7" rx="0.5" fill="#333"/>
<rect x="335.45" y="315.75" width="1.7" height="1.7" rx="0.5" fill="#333"/>
<rect x="338.55" y="315.75" width="1.7" height="1.7" rx="0.5" fill="#333"/>
<rect x="341.65" y="315.75" width="1.7" height="1.7" rx="0.5" fill="#333"/>
<text x="381.50" y="214.75" font-size="11" text-anchor="start" fill="#000" font-weight="bold" stroke="#000" stroke-width="0.22" >D</text>
<line x1="421.00" y1="225.70" x2="421.00" y2="323.40" stroke="#9a9a9a" stroke-width="0.8" />
<line x1="439.72" y1="225.70" x2="439.72" y2="323.40" stroke="#9a9a9a" stroke-width="0.8" />
<line x1="458.44" y1="225.70" x2="458.44" y2="323.40" stroke="#9a9a9a" stroke-width="0.8" />
<line x1="477.16" y1="225.70" x2="477.16" y2="323.40" stroke="#9a9a9a" stroke-width="0.8" />
<line x1="495.88" y1="225.70" x2="495.88" y2="323.40" stroke="#9a9a9a" stroke-width="0.8" />
<line x1="514.60" y1="225.70" x2="514.60" y2="323.40" stroke="#9a9a9a" stroke-width="0.8" />
<line x1="421.00" y1="323.40" x2="514.60" y2="323.40" stroke="#9a9a9a" stroke-width="0.8" />
<line x1="421.00" y1="323.40" x2="421.00" y2="325.00" stroke="#9a9a9a" stroke-width="0.6" />
<text x="421.60" y="333.11" font-size="6.6" text-anchor="middle" fill="#222" >-4</text>
<line x1="439.72" y1="323.40" x2="439.72" y2="325.00" stroke="#9a9a9a" stroke-width="0.6" />
<text x="440.32" y="333.11" font-size="6.6" text-anchor="middle" fill="#222" >-3</text>
<line x1="458.44" y1="323.40" x2="458.44" y2="325.00" stroke="#9a9a9a" stroke-width="0.6" />
<text x="459.04" y="333.11" font-size="6.6" text-anchor="middle" fill="#222" >-2</text>
<line x1="477.16" y1="323.40" x2="477.16" y2="325.00" stroke="#9a9a9a" stroke-width="0.6" />
<text x="477.76" y="333.11" font-size="6.6" text-anchor="middle" fill="#222" >-1</text>
<line x1="495.88" y1="323.40" x2="495.88" y2="325.00" stroke="#9a9a9a" stroke-width="0.6" />
<text x="496.48" y="333.11" font-size="6.6" text-anchor="middle" fill="#222" >0</text>
<line x1="514.60" y1="323.40" x2="514.60" y2="325.00" stroke="#9a9a9a" stroke-width="0.6" />
<text x="515.20" y="333.11" font-size="6.6" text-anchor="middle" fill="#222" >1</text>
<rect x="451.14" y="228.20" width="44.74" height="4.00" fill="#606060" />
<text x="416.60" y="231.77" font-size="4.5" text-anchor="end" fill="#333" textLength="12.51" lengthAdjust="spacingAndGlyphs" >CCNE2</text>
<line x1="495.88" y1="225.80" x2="497.08" y2="225.80" stroke="#9a9a9a" stroke-width="0.5" />
<rect x="461.81" y="237.03" width="34.07" height="4.00" fill="#606060" />
<text x="416.60" y="240.60" font-size="4.5" text-anchor="end" fill="#333" textLength="12.51" lengthAdjust="spacingAndGlyphs" >CCNE1</text>
<line x1="495.88" y1="234.63" x2="497.08" y2="234.63" stroke="#9a9a9a" stroke-width="0.5" />
<rect x="466.49" y="245.86" width="29.39" height="4.00" fill="#606060" />
<text x="416.60" y="249.43" font-size="4.5" text-anchor="end" fill="#333" textLength="9.84" lengthAdjust="spacingAndGlyphs" >CDK2</text>
<line x1="495.88" y1="243.46" x2="497.08" y2="243.46" stroke="#9a9a9a" stroke-width="0.5" />
<rect x="464.99" y="254.69" width="30.89" height="4.00" fill="#606060" />
<text x="416.60" y="258.26" font-size="4.5" text-anchor="end" fill="#333" textLength="9.84" lengthAdjust="spacingAndGlyphs" >CDK2</text>
<line x1="495.88" y1="252.29" x2="497.08" y2="252.29" stroke="#9a9a9a" stroke-width="0.5" />
<rect x="461.44" y="263.52" width="34.44" height="4.00" fill="#606060" />
<text x="416.60" y="267.09" font-size="4.5" text-anchor="end" fill="#333" textLength="8.82" lengthAdjust="spacingAndGlyphs" >E2F1</text>
<line x1="495.88" y1="261.12" x2="497.08" y2="261.12" stroke="#9a9a9a" stroke-width="0.5" />
<rect x="457.88" y="272.35" width="38.00" height="4.00" fill="#606060" />
<text x="416.60" y="275.92" font-size="4.5" text-anchor="end" fill="#333" textLength="8.82" lengthAdjust="spacingAndGlyphs" >E2F2</text>
<line x1="495.88" y1="269.95" x2="497.08" y2="269.95" stroke="#9a9a9a" stroke-width="0.5" />
<rect x="438.97" y="281.18" width="56.91" height="4.00" fill="#606060" />
<text x="416.60" y="284.75" font-size="4.5" text-anchor="end" fill="#333" textLength="8.82" lengthAdjust="spacingAndGlyphs" >E2F7</text>
<line x1="495.88" y1="278.78" x2="497.08" y2="278.78" stroke="#9a9a9a" stroke-width="0.5" />
<rect x="465.93" y="290.01" width="29.95" height="4.00" fill="#606060" />
<text x="416.60" y="293.58" font-size="4.5" text-anchor="end" fill="#333" textLength="12.71" lengthAdjust="spacingAndGlyphs" >CCND2</text>
<line x1="495.88" y1="287.61" x2="497.08" y2="287.61" stroke="#9a9a9a" stroke-width="0.5" />
<rect x="448.71" y="298.84" width="47.17" height="4.00" fill="#606060" />
<text x="416.60" y="302.41" font-size="4.5" text-anchor="end" fill="#333" textLength="12.71" lengthAdjust="spacingAndGlyphs" >CCND3</text>
<line x1="495.88" y1="296.44" x2="497.08" y2="296.44" stroke="#9a9a9a" stroke-width="0.5" />
<rect x="462.93" y="307.67" width="32.95" height="4.00" fill="#606060" />
<text x="416.60" y="311.24" font-size="4.5" text-anchor="end" fill="#333" textLength="9.84" lengthAdjust="spacingAndGlyphs" >CDK4</text>
<line x1="495.88" y1="305.27" x2="497.08" y2="305.27" stroke="#9a9a9a" stroke-width="0.5" />
<rect x="461.44" y="316.50" width="34.44" height="4.00" fill="#606060" />
<text x="416.60" y="320.07" font-size="4.5" text-anchor="end" fill="#333" textLength="9.84" lengthAdjust="spacingAndGlyphs" >CDK6</text>
<line x1="495.88" y1="314.10" x2="497.08" y2="314.10" stroke="#9a9a9a" stroke-width="0.5" />
<text x="424.40" y="343.12" font-size="5.2" text-anchor="start" fill="#000" font-weight="bold" stroke="#000" stroke-width="0.10" textLength="87.60" lengthAdjust="spacingAndGlyphs" >mRNA expression log2 fold change</text>
</svg>
</body></html>
